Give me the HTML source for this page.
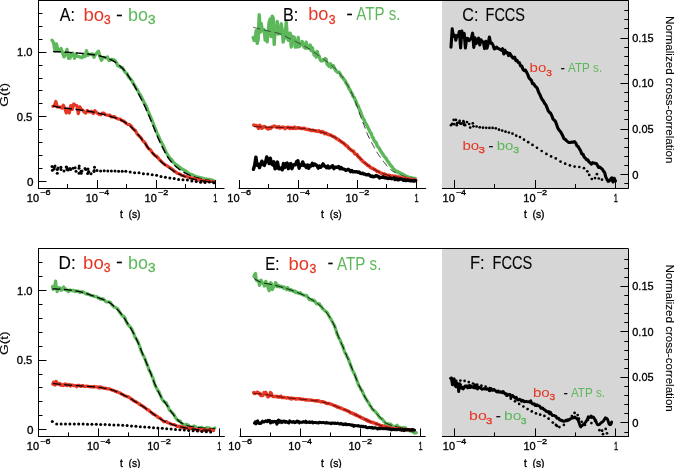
<!DOCTYPE html>
<html><head><meta charset="utf-8"><style>
html,body{margin:0;padding:0;background:#fff;width:675px;height:468px;overflow:hidden;}
svg{display:block;}
</style></head><body>
<svg width="675" height="468" viewBox="0 0 675 468">
<rect x="0" y="0" width="675" height="468" fill="#fff"/>
<rect x="442" y="0" width="186" height="188" fill="#d6d6d6"/>
<rect x="442" y="248.5" width="186" height="188" fill="#d6d6d6"/>
<path d="M52.0 40.2 L53.5 42.6 L55.0 50.7 L56.5 43.8 L58.0 50.4 L59.5 51.0 L61.0 48.5 L62.5 52.5 L64.0 56.9 L65.5 54.1 L67.0 49.4 L68.5 58.3 L70.0 58.1 L71.5 53.8 L73.0 53.1 L74.5 58.2 L76.0 54.3 L77.5 56.3 L79.0 56.6 L80.5 57.3 L82.0 57.7 L83.5 54.9 L85.0 56.5 L86.5 50.7 L88.0 55.3 L89.5 54.4 L91.0 54.3 L92.5 53.9 L94.0 57.3 L95.5 54.5 L97.0 52.9 L98.5 51.2 L100.0 56.4 L101.5 60.3 L103.0 57.5 L104.5 57.5 L106.0 57.9 L107.5 56.9 L109.0 60.6 L110.5 60.0 L112.0 59.3 L113.5 59.6 L115.0 60.5 L116.5 63.0 L118.0 65.9 L119.5 66.2 L121.0 67.4 L122.5 67.7 L124.0 70.3 L125.5 72.7 L127.0 73.7 L128.5 76.9 L130.0 78.4 L131.5 80.1 L133.0 83.0 L134.5 85.3 L136.0 87.9 L137.5 89.9 L139.0 93.4 L140.5 95.1 L142.0 98.2 L143.5 101.4 L145.0 104.1 L146.5 106.9 L148.0 111.2 L149.5 114.5 L151.0 117.9 L152.5 121.6 L154.0 125.7 L155.5 129.1 L157.0 133.2 L158.5 136.0 L160.0 139.7 L161.5 142.4 L163.0 145.3 L164.5 148.7 L166.0 152.0 L167.5 154.6 L169.0 157.1 L170.5 158.9 L172.0 160.1 L173.5 162.4 L175.0 163.9 L176.5 164.9 L178.0 166.1 L179.5 167.1 L181.0 168.3 L182.5 169.3 L184.0 170.1 L185.5 170.7 L187.0 172.0 L188.5 173.3 L190.0 174.0 L191.5 174.3 L193.0 175.2 L194.5 176.2 L196.0 176.3 L197.5 177.3 L199.0 177.2 L200.5 177.9 L202.0 178.0 L203.5 178.6 L205.0 179.1 L206.5 179.0 L208.0 179.5 L209.5 179.5 L211.0 179.9 L212.5 180.2 L214.0 181.0" fill="none" stroke="#5cb85a" stroke-width="3.3" stroke-linejoin="round" stroke-linecap="round" />
<path d="M53.0 51.6 L53.5 51.6 L54.0 51.6 L54.5 51.7 L55.0 51.7 L55.5 51.7 L56.0 51.7 L56.5 51.7 L57.0 51.8 L57.5 51.8 L58.0 51.8 L58.5 51.8 L59.0 51.9 L59.5 51.9 L60.0 51.9 L60.5 51.9 L61.0 52.0 L61.5 52.0 L62.0 52.0 L62.5 52.0 L63.0 52.1 L63.5 52.1 L64.0 52.1 L64.5 52.1 L65.0 52.2 L65.5 52.2 L66.0 52.2 L66.5 52.3 L67.0 52.3 L67.5 52.3 L68.0 52.4 L68.5 52.4 L69.0 52.4 L69.5 52.5 L70.0 52.5 L70.5 52.5 L71.0 52.6 L71.5 52.6 L72.0 52.6 L72.5 52.7 L73.0 52.7 L73.5 52.7 L74.0 52.8 L74.5 52.8 L75.0 52.8 L75.5 52.9 L76.0 52.9 L76.5 53.0 L77.0 53.0 L77.5 53.0 L78.0 53.1 L78.5 53.1 L79.0 53.1 L79.5 53.2 L80.0 53.2 L80.5 53.3 L81.0 53.3 L81.5 53.4 L82.0 53.4 L82.5 53.5 L83.0 53.5 L83.5 53.5 L84.0 53.6 L84.5 53.6 L85.0 53.7 L85.5 53.8 L86.0 53.8 L86.5 53.9 L87.0 53.9 L87.5 54.0 L88.0 54.0 L88.5 54.1 L89.0 54.2 L89.5 54.2 L90.0 54.3 L90.5 54.3 L91.0 54.4 L91.5 54.5 L92.0 54.5 L92.5 54.6 L93.0 54.7 L93.5 54.8 L94.0 54.8 L94.5 54.9 L95.0 55.0 L95.5 55.1 L96.0 55.2 L96.5 55.3 L97.0 55.3 L97.5 55.4 L98.0 55.5 L98.5 55.6 L99.0 55.8 L99.5 55.9 L100.0 56.0 L100.5 56.1 L101.0 56.2 L101.5 56.3 L102.0 56.5 L102.5 56.6 L103.0 56.7 L103.5 56.9 L104.0 57.0 L104.5 57.1 L105.0 57.3 L105.5 57.5 L106.0 57.7 L106.5 57.8 L107.0 58.0 L107.5 58.2 L108.0 58.4 L108.5 58.6 L109.0 58.9 L109.5 59.1 L110.0 59.3 L110.5 59.5 L111.0 59.8 L111.5 60.0 L112.0 60.3 L112.5 60.5 L113.0 60.8 L113.5 61.1 L114.0 61.4 L114.5 61.7 L115.0 62.0 L115.5 62.3 L116.0 62.7 L116.5 63.1 L117.0 63.4 L117.5 63.8 L118.0 64.2 L118.5 64.7 L119.0 65.1 L119.5 65.5 L120.0 66.0 L120.5 66.5 L121.0 66.9 L121.5 67.4 L122.0 67.9 L122.5 68.4 L123.0 68.9 L123.5 69.5 L124.0 70.0 L124.5 70.6 L125.0 71.2 L125.5 71.8 L126.0 72.4 L126.5 73.1 L127.0 73.8 L127.5 74.6 L128.0 75.4 L128.5 76.1 L129.0 76.9 L129.5 77.7 L130.0 78.5 L130.5 79.3 L131.0 80.1 L131.5 80.8 L132.0 81.6 L132.5 82.5 L133.0 83.3 L133.5 84.1 L134.0 85.0 L134.5 85.9 L135.0 86.8 L135.5 87.8 L136.0 88.7 L136.5 89.7 L137.0 90.7 L137.5 91.7 L138.0 92.7 L138.5 93.7 L139.0 94.7 L139.5 95.7 L140.0 96.7 L140.5 97.6 L141.0 98.6 L141.5 99.5 L142.0 100.5 L142.5 101.5 L143.0 102.5 L143.5 103.5 L144.0 104.5 L144.5 105.6 L145.0 106.7 L145.5 107.8 L146.0 108.9 L146.5 110.1 L147.0 111.2 L147.5 112.4 L148.0 113.5 L148.5 114.7 L149.0 115.8 L149.5 117.0 L150.0 118.2 L150.5 119.4 L151.0 120.6 L151.5 121.8 L152.0 123.0 L152.5 124.2 L153.0 125.5 L153.5 126.8 L154.0 128.0 L154.5 129.3 L155.0 130.6 L155.5 131.8 L156.0 133.0 L156.5 134.2 L157.0 135.4 L157.5 136.6 L158.0 137.7 L158.5 138.9 L159.0 140.0 L159.5 141.1 L160.0 142.2 L160.5 143.3 L161.0 144.4 L161.5 145.4 L162.0 146.4 L162.5 147.4 L163.0 148.4 L163.5 149.4 L164.0 150.3 L164.5 151.3 L165.0 152.2 L165.5 153.2 L166.0 154.1 L166.5 155.0 L167.0 155.8 L167.5 156.7 L168.0 157.5 L168.5 158.2 L169.0 158.9 L169.5 159.6 L170.0 160.3 L170.5 160.9 L171.0 161.5 L171.5 162.1 L172.0 162.7 L172.5 163.2 L173.0 163.8 L173.5 164.3 L174.0 164.8 L174.5 165.3 L175.0 165.7 L175.5 166.2 L176.0 166.6 L176.5 167.1 L177.0 167.5 L177.5 167.9 L178.0 168.3 L178.5 168.7 L179.0 169.1 L179.5 169.5 L180.0 169.8 L180.5 170.2 L181.0 170.5 L181.5 170.9 L182.0 171.2 L182.5 171.5 L183.0 171.8 L183.5 172.1 L184.0 172.4 L184.5 172.7 L185.0 173.0 L185.5 173.2 L186.0 173.5 L186.5 173.7 L187.0 174.0 L187.5 174.2 L188.0 174.5 L188.5 174.7 L189.0 174.9 L189.5 175.1 L190.0 175.3 L190.5 175.6 L191.0 175.7 L191.5 175.9 L192.0 176.1 L192.5 176.3 L193.0 176.5 L193.5 176.7 L194.0 176.8 L194.5 177.0 L195.0 177.1 L195.5 177.3 L196.0 177.5 L196.5 177.6 L197.0 177.7 L197.5 177.9 L198.0 178.0 L198.5 178.2 L199.0 178.3 L199.5 178.4 L200.0 178.5 L200.5 178.7 L201.0 178.8 L201.5 178.9 L202.0 179.0 L202.5 179.1 L203.0 179.2 L203.5 179.3 L204.0 179.4 L204.5 179.5 L205.0 179.6 L205.5 179.7 L206.0 179.8 L206.5 179.9 L207.0 180.0 L207.5 180.1 L208.0 180.2 L208.5 180.3 L209.0 180.4 L209.5 180.5 L210.0 180.6 L210.5 180.6 L211.0 180.7 L211.5 180.8 L212.0 180.9 L212.5 181.0 L213.0 181.1 L213.5 181.2 L214.0 181.3" fill="none" stroke="#000" stroke-width="1.4" stroke-dasharray="8,3.5"/>
<path d="M52.8 106.3 L54.3 106.0 L55.8 101.5 L57.3 107.0 L58.8 107.0 L60.3 107.2 L61.8 108.1 L63.3 105.1 L64.8 108.6 L66.3 113.0 L67.8 109.0 L69.3 113.0 L70.8 105.5 L72.3 109.4 L73.8 104.0 L75.3 105.2 L76.8 105.5 L78.3 113.6 L79.8 106.8 L81.3 109.4 L82.8 110.1 L84.3 112.2 L85.8 113.0 L87.3 110.4 L88.8 111.8 L90.3 111.9 L91.8 111.3 L93.3 113.6 L94.8 110.7 L96.3 112.3 L97.8 113.6 L99.3 114.5 L100.8 114.8 L102.3 113.0 L103.8 113.2 L105.3 114.7 L106.8 115.0 L108.3 115.6 L109.8 115.1 L111.3 116.9 L112.8 116.9 L114.3 116.5 L115.8 117.9 L117.3 118.6 L118.8 119.2 L120.3 119.0 L121.8 120.6 L123.3 120.8 L124.8 122.0 L126.3 123.5 L127.8 124.5 L129.3 124.4 L130.8 125.7 L132.3 127.8 L133.8 129.4 L135.3 130.4 L136.8 133.4 L138.3 135.2 L139.8 136.7 L141.3 138.2 L142.8 140.7 L144.3 142.0 L145.8 144.0 L147.3 146.9 L148.8 148.8 L150.3 149.6 L151.8 151.9 L153.3 153.8 L154.8 155.4 L156.3 156.0 L157.8 157.5 L159.3 159.5 L160.8 160.8 L162.3 162.4 L163.8 163.7 L165.3 164.9 L166.8 165.7 L168.3 166.6 L169.8 167.5 L171.3 168.6 L172.8 169.7 L174.3 171.3 L175.8 172.0 L177.3 173.3 L178.8 173.8 L180.3 174.3 L181.8 175.4 L183.3 175.5 L184.8 176.2 L186.3 176.7 L187.8 176.8 L189.3 177.6 L190.8 177.7 L192.3 179.1 L193.8 178.2 L195.3 179.0 L196.8 179.5 L198.3 180.2 L199.8 179.9 L201.3 180.3 L202.8 180.5 L204.3 181.3 L205.8 181.0 L207.3 181.0 L208.8 181.3 L210.3 181.4 L211.8 181.5 L213.3 181.6" fill="none" stroke="#e63624" stroke-width="3.2" stroke-linejoin="round" stroke-linecap="round" />
<path d="M52.8 105.9 L53.3 106.0 L53.8 106.1 L54.3 106.3 L54.8 106.4 L55.3 106.5 L55.8 106.6 L56.3 106.7 L56.8 106.8 L57.3 106.9 L57.8 107.0 L58.3 107.1 L58.8 107.2 L59.3 107.3 L59.8 107.4 L60.3 107.4 L60.8 107.5 L61.3 107.6 L61.8 107.7 L62.3 107.7 L62.8 107.8 L63.3 107.9 L63.8 107.9 L64.3 108.0 L64.8 108.1 L65.3 108.1 L65.8 108.2 L66.3 108.2 L66.8 108.3 L67.3 108.4 L67.8 108.4 L68.3 108.5 L68.8 108.5 L69.3 108.6 L69.8 108.7 L70.3 108.7 L70.8 108.8 L71.3 108.9 L71.8 108.9 L72.3 109.0 L72.8 109.1 L73.3 109.1 L73.8 109.2 L74.3 109.2 L74.8 109.3 L75.3 109.4 L75.8 109.4 L76.3 109.5 L76.8 109.6 L77.3 109.6 L77.8 109.7 L78.3 109.8 L78.8 109.8 L79.3 109.9 L79.8 110.0 L80.3 110.0 L80.8 110.1 L81.3 110.2 L81.8 110.2 L82.3 110.3 L82.8 110.4 L83.3 110.4 L83.8 110.5 L84.3 110.6 L84.8 110.7 L85.3 110.7 L85.8 110.8 L86.3 110.9 L86.8 111.0 L87.3 111.0 L87.8 111.1 L88.3 111.2 L88.8 111.3 L89.3 111.4 L89.8 111.5 L90.3 111.5 L90.8 111.6 L91.3 111.7 L91.8 111.8 L92.3 111.9 L92.8 112.0 L93.3 112.1 L93.8 112.2 L94.3 112.3 L94.8 112.4 L95.3 112.5 L95.8 112.6 L96.3 112.7 L96.8 112.8 L97.3 112.9 L97.8 113.0 L98.3 113.1 L98.8 113.3 L99.3 113.4 L99.8 113.5 L100.3 113.6 L100.8 113.8 L101.3 113.9 L101.8 114.0 L102.3 114.1 L102.8 114.3 L103.3 114.4 L103.8 114.5 L104.3 114.7 L104.8 114.8 L105.3 114.9 L105.8 115.1 L106.3 115.2 L106.8 115.4 L107.3 115.5 L107.8 115.6 L108.3 115.8 L108.8 115.9 L109.3 116.1 L109.8 116.2 L110.3 116.3 L110.8 116.5 L111.3 116.6 L111.8 116.8 L112.3 116.9 L112.8 117.1 L113.3 117.3 L113.8 117.4 L114.3 117.6 L114.8 117.7 L115.3 117.9 L115.8 118.1 L116.3 118.2 L116.8 118.4 L117.3 118.6 L117.8 118.7 L118.3 118.9 L118.8 119.1 L119.3 119.3 L119.8 119.5 L120.3 119.7 L120.8 120.0 L121.3 120.2 L121.8 120.5 L122.3 120.7 L122.8 121.0 L123.3 121.3 L123.8 121.6 L124.3 121.9 L124.8 122.2 L125.3 122.6 L125.8 122.9 L126.3 123.2 L126.8 123.6 L127.3 123.9 L127.8 124.3 L128.3 124.7 L128.8 125.1 L129.3 125.5 L129.8 125.9 L130.3 126.3 L130.8 126.7 L131.3 127.2 L131.8 127.6 L132.3 128.1 L132.8 128.6 L133.3 129.2 L133.8 129.7 L134.3 130.3 L134.8 130.8 L135.3 131.4 L135.8 132.0 L136.3 132.6 L136.8 133.2 L137.3 133.7 L137.8 134.3 L138.3 134.9 L138.8 135.5 L139.3 136.1 L139.8 136.7 L140.3 137.4 L140.8 138.0 L141.3 138.6 L141.8 139.2 L142.3 139.9 L142.8 140.5 L143.3 141.1 L143.8 141.8 L144.3 142.5 L144.8 143.2 L145.3 143.9 L145.8 144.6 L146.3 145.3 L146.8 146.0 L147.3 146.7 L147.8 147.3 L148.3 148.0 L148.8 148.7 L149.3 149.3 L149.8 149.9 L150.3 150.5 L150.8 151.0 L151.3 151.6 L151.8 152.2 L152.3 152.7 L152.8 153.2 L153.3 153.8 L153.8 154.3 L154.3 154.8 L154.8 155.4 L155.3 155.9 L155.8 156.4 L156.3 157.0 L156.8 157.5 L157.3 158.0 L157.8 158.5 L158.3 159.0 L158.8 159.5 L159.3 160.0 L159.8 160.5 L160.3 161.0 L160.8 161.4 L161.3 161.9 L161.8 162.3 L162.3 162.7 L162.8 163.1 L163.3 163.5 L163.8 163.9 L164.3 164.3 L164.8 164.7 L165.3 165.1 L165.8 165.5 L166.3 165.9 L166.8 166.3 L167.3 166.6 L167.8 167.0 L168.3 167.4 L168.8 167.7 L169.3 168.1 L169.8 168.4 L170.3 168.8 L170.8 169.1 L171.3 169.4 L171.8 169.8 L172.3 170.1 L172.8 170.4 L173.3 170.7 L173.8 171.1 L174.3 171.4 L174.8 171.7 L175.3 172.0 L175.8 172.3 L176.3 172.6 L176.8 172.9 L177.3 173.2 L177.8 173.4 L178.3 173.7 L178.8 174.0 L179.3 174.2 L179.8 174.4 L180.3 174.7 L180.8 174.9 L181.3 175.2 L181.8 175.4 L182.3 175.6 L182.8 175.8 L183.3 176.0 L183.8 176.3 L184.3 176.5 L184.8 176.7 L185.3 176.8 L185.8 177.0 L186.3 177.2 L186.8 177.4 L187.3 177.5 L187.8 177.7 L188.3 177.8 L188.8 178.0 L189.3 178.1 L189.8 178.3 L190.3 178.4 L190.8 178.5 L191.3 178.6 L191.8 178.8 L192.3 178.9 L192.8 179.0 L193.3 179.1 L193.8 179.2 L194.3 179.3 L194.8 179.4 L195.3 179.5 L195.8 179.6 L196.3 179.7 L196.8 179.8 L197.3 179.9 L197.8 180.0 L198.3 180.1 L198.8 180.2 L199.3 180.3 L199.8 180.4 L200.3 180.5 L200.8 180.6 L201.3 180.7 L201.8 180.7 L202.3 180.8 L202.8 180.9 L203.3 181.0 L203.8 181.1 L204.3 181.1 L204.8 181.2 L205.3 181.3 L205.8 181.3 L206.3 181.4 L206.8 181.4 L207.3 181.5 L207.8 181.6 L208.3 181.6 L208.8 181.7 L209.3 181.7 L209.8 181.8 L210.3 181.8 L210.8 181.9 L211.3 181.9 L211.8 182.0 L212.3 182.0 L212.8 182.1 L213.3 182.1 L213.8 182.2 L214.3 182.2" fill="none" stroke="#000" stroke-width="1.4" stroke-dasharray="8,3.5"/>
<g fill="#000"><circle cx="52.0" cy="166.6" r="1.5"/><circle cx="55.0" cy="165.9" r="1.5"/><circle cx="58.0" cy="168.1" r="1.5"/><circle cx="61.0" cy="169.5" r="1.5"/><circle cx="64.0" cy="171.1" r="1.5"/><circle cx="67.0" cy="169.5" r="1.5"/><circle cx="70.0" cy="168.5" r="1.5"/><circle cx="73.0" cy="168.3" r="1.5"/><circle cx="76.0" cy="171.3" r="1.5"/><circle cx="79.0" cy="173.2" r="1.5"/><circle cx="82.0" cy="171.0" r="1.5"/><circle cx="85.0" cy="168.5" r="1.5"/><circle cx="88.0" cy="169.1" r="1.5"/><circle cx="91.0" cy="173.8" r="1.5"/><circle cx="94.0" cy="171.4" r="1.5"/><circle cx="97.0" cy="170.6" r="1.5"/><circle cx="100.6" cy="171.0" r="1.5"/><circle cx="104.2" cy="170.8" r="1.5"/><circle cx="107.8" cy="170.9" r="1.5"/><circle cx="111.4" cy="171.0" r="1.5"/><circle cx="115.0" cy="171.0" r="1.5"/><circle cx="118.6" cy="171.3" r="1.5"/><circle cx="122.2" cy="171.2" r="1.5"/><circle cx="125.8" cy="171.3" r="1.5"/><circle cx="130.2" cy="172.0" r="1.5"/><circle cx="134.6" cy="172.8" r="1.5"/><circle cx="139.0" cy="172.8" r="1.5"/><circle cx="143.4" cy="173.7" r="1.5"/><circle cx="147.8" cy="174.0" r="1.5"/><circle cx="152.2" cy="174.8" r="1.5"/><circle cx="156.6" cy="175.2" r="1.5"/><circle cx="161.0" cy="176.4" r="1.5"/><circle cx="165.4" cy="177.3" r="1.5"/><circle cx="169.8" cy="178.1" r="1.5"/><circle cx="174.2" cy="178.6" r="1.5"/><circle cx="178.6" cy="179.4" r="1.5"/><circle cx="183.0" cy="179.7" r="1.5"/><circle cx="187.4" cy="180.1" r="1.5"/><circle cx="191.8" cy="181.1" r="1.5"/><circle cx="196.2" cy="181.5" r="1.5"/><circle cx="200.6" cy="182.3" r="1.5"/><circle cx="205.0" cy="182.4" r="1.5"/><circle cx="209.4" cy="182.0" r="1.5"/><circle cx="213.8" cy="182.8" r="1.5"/><circle cx="75.1" cy="167.7" r="1.5"/><circle cx="66.8" cy="167.3" r="1.5"/><circle cx="67.9" cy="169.5" r="1.5"/><circle cx="68.1" cy="170.0" r="1.5"/><circle cx="94.5" cy="167.2" r="1.5"/><circle cx="79.2" cy="166.1" r="1.5"/><circle cx="81.0" cy="171.2" r="1.5"/><circle cx="66.2" cy="167.1" r="1.5"/><circle cx="81.2" cy="173.3" r="1.5"/><circle cx="57.3" cy="169.4" r="1.5"/><circle cx="54.2" cy="168.9" r="1.5"/><circle cx="88.6" cy="171.4" r="1.5"/><circle cx="52.4" cy="170.2" r="1.5"/><circle cx="94.1" cy="170.6" r="1.5"/><circle cx="87.6" cy="173.4" r="1.5"/><circle cx="85.8" cy="169.5" r="1.5"/><circle cx="54.1" cy="167.6" r="1.5"/><circle cx="60.9" cy="167.2" r="1.5"/><circle cx="88.5" cy="172.3" r="1.5"/><circle cx="70.6" cy="169.6" r="1.5"/><circle cx="79.0" cy="168.2" r="1.5"/><circle cx="57.3" cy="173.3" r="1.5"/></g>
<path d="M253.2 37.6 L254.2 40.4 L255.2 38.0 L256.2 30.7 L257.2 43.3 L258.2 38.8 L259.2 14.7 L260.2 32.3 L261.2 23.5 L262.2 30.0 L263.2 31.2 L264.2 29.8 L265.2 40.1 L266.2 32.3 L267.2 41.8 L268.2 30.7 L269.2 22.0 L270.2 19.0 L271.2 36.5 L272.2 16.2 L273.2 17.8 L274.2 44.4 L275.2 28.8 L276.2 31.9 L277.2 21.5 L278.2 34.1 L279.2 30.2 L280.2 33.6 L281.2 23.8 L282.2 29.7 L283.2 42.0 L284.2 37.4 L285.2 37.8 L286.2 22.3 L287.2 34.7 L288.2 40.3 L289.2 40.3 L290.2 33.1 L291.2 47.0 L292.2 36.3 L293.2 41.2 L294.2 37.1 L295.2 47.1 L296.2 41.2 L297.2 47.0 L298.2 37.4 L299.2 46.5 L300.2 45.0 L301.2 44.2 L302.2 41.5 L303.2 45.6 L304.2 47.2 L305.2 48.1 L306.2 42.2 L307.2 48.1 L308.2 48.1 L309.2 47.5 L310.2 45.0 L311.2 50.6 L312.2 47.5 L313.2 51.5 L314.2 55.1 L315.2 53.1 L316.2 57.2 L317.2 51.4 L318.2 55.7 L319.2 56.3 L320.2 59.7 L321.2 60.9 L322.2 60.9 L323.2 60.7 L324.2 59.8 L325.2 58.6 L326.2 59.3 L327.2 64.3 L328.2 65.1 L329.2 66.3 L330.2 63.7 L331.2 67.6 L332.2 65.4 L333.2 65.7 L334.2 67.5 L335.2 69.5 L336.2 71.1 L337.2 72.0 L338.2 72.3 L339.2 72.3 L340.2 73.9 L341.2 76.3 L342.2 77.0 L343.2 78.4 L344.2 79.7 L345.2 80.8 L346.2 83.5 L347.2 84.3 L348.2 86.5 L349.2 88.9 L350.2 90.1 L351.2 92.3 L352.2 93.9 L353.2 96.8 L354.2 97.4 L355.2 100.0 L356.2 102.1 L357.2 105.1 L358.2 105.9 L359.2 109.1 L360.2 110.9 L361.2 113.9 L362.2 116.3 L363.2 118.9 L364.2 119.9 L365.2 122.8 L366.2 124.2 L367.2 126.0 L368.2 128.1 L369.2 130.0 L370.2 132.4 L371.2 133.5 L372.2 136.8 L373.2 137.9 L374.2 140.7 L375.2 141.8 L376.2 142.8 L377.2 146.1 L378.2 147.0 L379.2 148.3 L380.2 150.1 L381.2 151.8 L382.2 153.2 L383.2 154.7 L384.2 156.3 L385.2 157.4 L386.2 158.7 L387.2 160.4 L388.2 161.8 L389.2 163.1 L390.2 164.8 L391.2 166.0 L392.2 166.8 L393.2 169.2 L394.2 169.2 L395.2 171.1 L396.2 171.2 L397.2 171.2 L398.2 172.7 L399.2 172.3 L400.2 173.3 L401.2 173.4 L402.2 174.2 L403.2 174.4 L404.2 174.9 L405.2 176.5 L406.2 176.2 L407.2 176.6 L408.2 176.9 L409.2 177.6 L410.2 178.1 L411.2 177.7 L412.2 178.6 L413.2 178.1 L414.2 178.3 L415.2 178.5" fill="none" stroke="#5cb85a" stroke-width="3.4" stroke-linejoin="round" stroke-linecap="round" />
<path d="M253.2 27.3 L253.7 27.4 L254.2 27.6 L254.7 27.7 L255.2 27.8 L255.7 27.9 L256.2 28.1 L256.7 28.2 L257.2 28.3 L257.7 28.4 L258.2 28.6 L258.7 28.7 L259.2 28.8 L259.7 28.9 L260.2 29.1 L260.7 29.2 L261.2 29.3 L261.7 29.4 L262.2 29.5 L262.7 29.7 L263.2 29.8 L263.7 29.9 L264.2 30.0 L264.7 30.1 L265.2 30.3 L265.7 30.4 L266.2 30.5 L266.7 30.6 L267.2 30.7 L267.7 30.9 L268.2 31.0 L268.7 31.1 L269.2 31.2 L269.7 31.3 L270.2 31.4 L270.7 31.6 L271.2 31.7 L271.7 31.8 L272.2 31.9 L272.7 32.0 L273.2 32.1 L273.7 32.2 L274.2 32.3 L274.7 32.4 L275.2 32.5 L275.7 32.6 L276.2 32.8 L276.7 32.9 L277.2 33.0 L277.7 33.1 L278.2 33.3 L278.7 33.4 L279.2 33.6 L279.7 33.7 L280.2 33.9 L280.7 34.0 L281.2 34.2 L281.7 34.4 L282.2 34.7 L282.7 34.9 L283.2 35.1 L283.7 35.4 L284.2 35.7 L284.7 35.9 L285.2 36.2 L285.7 36.5 L286.2 36.7 L286.7 37.0 L287.2 37.3 L287.7 37.6 L288.2 37.9 L288.7 38.1 L289.2 38.4 L289.7 38.6 L290.2 38.9 L290.7 39.1 L291.2 39.4 L291.7 39.6 L292.2 39.9 L292.7 40.1 L293.2 40.4 L293.7 40.6 L294.2 40.9 L294.7 41.1 L295.2 41.4 L295.7 41.6 L296.2 41.9 L296.7 42.1 L297.2 42.4 L297.7 42.6 L298.2 42.9 L298.7 43.1 L299.2 43.4 L299.7 43.6 L300.2 43.9 L300.7 44.2 L301.2 44.4 L301.7 44.7 L302.2 45.0 L302.7 45.3 L303.2 45.5 L303.7 45.8 L304.2 46.1 L304.7 46.4 L305.2 46.6 L305.7 46.9 L306.2 47.2 L306.7 47.5 L307.2 47.8 L307.7 48.1 L308.2 48.4 L308.7 48.7 L309.2 49.0 L309.7 49.3 L310.2 49.6 L310.7 49.9 L311.2 50.3 L311.7 50.6 L312.2 50.9 L312.7 51.3 L313.2 51.6 L313.7 52.0 L314.2 52.3 L314.7 52.7 L315.2 53.0 L315.7 53.4 L316.2 53.7 L316.7 54.1 L317.2 54.5 L317.7 54.8 L318.2 55.2 L318.7 55.6 L319.2 55.9 L319.7 56.3 L320.2 56.6 L320.7 57.0 L321.2 57.4 L321.7 57.7 L322.2 58.1 L322.7 58.5 L323.2 58.9 L323.7 59.2 L324.2 59.6 L324.7 60.0 L325.2 60.4 L325.7 60.8 L326.2 61.1 L326.7 61.5 L327.2 61.9 L327.7 62.3 L328.2 62.7 L328.7 63.1 L329.2 63.5 L329.7 63.9 L330.2 64.3 L330.7 64.7 L331.2 65.1 L331.7 65.6 L332.2 66.0 L332.7 66.4 L333.2 66.8 L333.7 67.3 L334.2 67.7 L334.7 68.2 L335.2 68.7 L335.7 69.2 L336.2 69.7 L336.7 70.2 L337.2 70.7 L337.7 71.3 L338.2 71.8 L338.7 72.4 L339.2 73.0 L339.7 73.6 L340.2 74.2 L340.7 74.8 L341.2 75.4 L341.7 76.0 L342.2 76.7 L342.7 77.4 L343.2 78.1 L343.7 78.8 L344.2 79.6 L344.7 80.3 L345.2 81.1 L345.7 81.9 L346.2 82.8 L346.7 83.6 L347.2 84.5 L347.7 85.4 L348.2 86.2 L348.7 87.2 L349.2 88.1 L349.7 89.0 L350.2 90.0 L350.7 91.0 L351.2 92.0 L351.7 93.1 L352.2 94.1 L352.7 95.2 L353.2 96.3 L353.7 97.5 L354.2 98.6 L354.7 99.9 L355.2 101.1 L355.7 102.4 L356.2 103.7 L356.7 105.1 L357.2 106.5 L357.7 107.9 L358.2 109.5 L358.7 111.0 L359.2 112.5 L359.7 114.0 L360.2 115.3 L360.7 116.7 L361.2 118.0 L361.7 119.3 L362.2 120.5 L362.7 121.8 L363.2 123.0 L363.7 124.3 L364.2 125.6 L364.7 126.9 L365.2 128.3 L365.7 129.6 L366.2 130.9 L366.7 132.3 L367.2 133.5 L367.7 134.8 L368.2 135.9 L368.7 137.0 L369.2 138.0 L369.7 139.0 L370.2 140.0 L370.7 141.0 L371.2 141.9 L371.7 142.8 L372.2 143.7 L372.7 144.6 L373.2 145.5 L373.7 146.4 L374.2 147.4 L374.7 148.3 L375.2 149.2 L375.7 150.1 L376.2 150.9 L376.7 151.8 L377.2 152.6 L377.7 153.4 L378.2 154.2 L378.7 154.9 L379.2 155.7 L379.7 156.4 L380.2 157.0 L380.7 157.7 L381.2 158.4 L381.7 159.0 L382.2 159.7 L382.7 160.3 L383.2 161.0 L383.7 161.7 L384.2 162.4 L384.7 163.0 L385.2 163.7 L385.7 164.3 L386.2 165.0 L386.7 165.6 L387.2 166.2 L387.7 166.8 L388.2 167.3 L388.7 167.8 L389.2 168.3 L389.7 168.9 L390.2 169.3 L390.7 169.8 L391.2 170.2 L391.7 170.5 L392.2 170.8 L392.7 171.1 L393.2 171.4 L393.7 171.7 L394.2 172.0 L394.7 172.2 L395.2 172.5 L395.7 172.7 L396.2 173.0 L396.7 173.2 L397.2 173.4 L397.7 173.6 L398.2 173.9 L398.7 174.1 L399.2 174.3 L399.7 174.5 L400.2 174.7 L400.7 175.0 L401.2 175.2 L401.7 175.4 L402.2 175.6 L402.7 175.8 L403.2 175.9 L403.7 176.1 L404.2 176.2 L404.7 176.4 L405.2 176.5 L405.7 176.7 L406.2 176.8 L406.7 176.9 L407.2 177.1 L407.7 177.2 L408.2 177.3 L408.7 177.5 L409.2 177.6 L409.7 177.7 L410.2 177.8 L410.7 177.9 L411.2 178.0 L411.7 178.1 L412.2 178.2 L412.7 178.3 L413.2 178.3 L413.7 178.4 L414.2 178.5 L414.7 178.5 L415.2 178.6" fill="none" stroke="#333" stroke-width="1.0" stroke-dasharray="7,4"/>
<path d="M253.8 125.1 L255.0 125.4 L256.2 125.4 L257.4 126.2 L258.6 128.3 L259.8 125.3 L261.0 127.9 L262.2 128.2 L263.4 126.7 L264.6 126.5 L265.8 127.5 L267.0 128.2 L268.2 129.0 L269.4 127.9 L270.6 128.5 L271.8 126.9 L273.0 126.7 L274.2 126.1 L275.4 126.6 L276.6 127.2 L277.8 127.5 L279.0 126.6 L280.2 128.0 L281.4 127.5 L282.6 127.2 L283.8 127.2 L285.0 128.6 L286.2 127.7 L287.4 127.3 L288.6 127.3 L289.8 128.5 L291.0 127.6 L292.2 128.3 L293.4 128.4 L294.6 127.0 L295.8 128.5 L297.0 127.9 L298.2 127.7 L299.4 127.9 L300.6 128.4 L301.8 128.4 L303.0 128.5 L304.2 128.2 L305.4 129.1 L306.6 129.3 L307.8 129.6 L309.0 129.6 L310.2 130.1 L311.4 130.5 L312.6 130.2 L313.8 130.5 L315.0 130.7 L316.2 130.9 L317.4 131.4 L318.6 130.7 L319.8 131.5 L321.0 132.2 L322.2 131.5 L323.4 132.1 L324.6 133.6 L325.8 133.0 L327.0 133.7 L328.2 134.5 L329.4 134.8 L330.6 135.1 L331.8 135.8 L333.0 136.3 L334.2 136.8 L335.4 137.7 L336.6 138.8 L337.8 139.1 L339.0 140.3 L340.2 140.9 L341.4 141.8 L342.6 142.7 L343.8 143.3 L345.0 144.6 L346.2 145.6 L347.4 146.2 L348.6 148.0 L349.8 149.0 L351.0 150.0 L352.2 150.8 L353.4 151.1 L354.6 153.6 L355.8 154.1 L357.0 154.5 L358.2 156.7 L359.4 157.4 L360.6 159.1 L361.8 160.1 L363.0 161.6 L364.2 162.4 L365.4 163.4 L366.6 164.3 L367.8 165.6 L369.0 165.7 L370.2 167.3 L371.4 168.0 L372.6 168.3 L373.8 169.2 L375.0 169.7 L376.2 170.6 L377.4 171.5 L378.6 171.5 L379.8 172.5 L381.0 173.1 L382.2 173.5 L383.4 174.2 L384.6 174.1 L385.8 174.8 L387.0 175.7 L388.2 175.3 L389.4 175.5 L390.6 175.8 L391.8 176.3 L393.0 176.1 L394.2 176.5 L395.4 176.2 L396.6 176.6 L397.8 176.9 L399.0 177.1 L400.2 177.6 L401.4 178.2 L402.6 178.1 L403.8 178.0 L405.0 178.7 L406.2 178.9 L407.4 178.6 L408.6 179.3 L409.8 179.1 L411.0 179.4 L412.2 179.6 L413.4 180.2 L414.6 179.9 L415.8 180.2" fill="none" stroke="#e63624" stroke-width="3.5" stroke-linejoin="round" stroke-linecap="round" />
<path d="M253.8 126.6 L254.3 126.6 L254.8 126.7 L255.3 126.7 L255.8 126.7 L256.3 126.7 L256.8 126.8 L257.3 126.8 L257.8 126.8 L258.3 126.8 L258.8 126.9 L259.3 126.9 L259.8 126.9 L260.3 126.9 L260.8 127.0 L261.3 127.0 L261.8 127.0 L262.3 127.0 L262.8 127.0 L263.3 127.0 L263.8 127.1 L264.3 127.1 L264.8 127.1 L265.3 127.1 L265.8 127.1 L266.3 127.1 L266.8 127.1 L267.3 127.2 L267.8 127.2 L268.3 127.2 L268.8 127.2 L269.3 127.2 L269.8 127.2 L270.3 127.2 L270.8 127.2 L271.3 127.3 L271.8 127.3 L272.3 127.3 L272.8 127.3 L273.3 127.3 L273.8 127.3 L274.3 127.3 L274.8 127.4 L275.3 127.4 L275.8 127.4 L276.3 127.4 L276.8 127.4 L277.3 127.4 L277.8 127.4 L278.3 127.4 L278.8 127.4 L279.3 127.5 L279.8 127.5 L280.3 127.5 L280.8 127.5 L281.3 127.5 L281.8 127.5 L282.3 127.5 L282.8 127.5 L283.3 127.6 L283.8 127.6 L284.3 127.6 L284.8 127.6 L285.3 127.6 L285.8 127.6 L286.3 127.6 L286.8 127.7 L287.3 127.7 L287.8 127.7 L288.3 127.7 L288.8 127.7 L289.3 127.7 L289.8 127.8 L290.3 127.8 L290.8 127.8 L291.3 127.8 L291.8 127.8 L292.3 127.8 L292.8 127.9 L293.3 127.9 L293.8 127.9 L294.3 127.9 L294.8 127.9 L295.3 128.0 L295.8 128.0 L296.3 128.0 L296.8 128.0 L297.3 128.0 L297.8 128.1 L298.3 128.1 L298.8 128.1 L299.3 128.1 L299.8 128.2 L300.3 128.2 L300.8 128.2 L301.3 128.3 L301.8 128.3 L302.3 128.3 L302.8 128.4 L303.3 128.4 L303.8 128.4 L304.3 128.5 L304.8 128.5 L305.3 128.6 L305.8 128.6 L306.3 128.7 L306.8 128.8 L307.3 128.8 L307.8 128.9 L308.3 129.0 L308.8 129.1 L309.3 129.2 L309.8 129.3 L310.3 129.4 L310.8 129.5 L311.3 129.7 L311.8 129.8 L312.3 129.9 L312.8 130.0 L313.3 130.1 L313.8 130.2 L314.3 130.3 L314.8 130.4 L315.3 130.5 L315.8 130.6 L316.3 130.8 L316.8 130.9 L317.3 131.0 L317.8 131.1 L318.3 131.3 L318.8 131.4 L319.3 131.5 L319.8 131.6 L320.3 131.8 L320.8 131.9 L321.3 132.1 L321.8 132.2 L322.3 132.3 L322.8 132.5 L323.3 132.6 L323.8 132.8 L324.3 132.9 L324.8 133.1 L325.3 133.3 L325.8 133.4 L326.3 133.6 L326.8 133.8 L327.3 134.0 L327.8 134.2 L328.3 134.4 L328.8 134.7 L329.3 134.9 L329.8 135.1 L330.3 135.3 L330.8 135.5 L331.3 135.8 L331.8 136.0 L332.3 136.2 L332.8 136.4 L333.3 136.6 L333.8 136.9 L334.3 137.1 L334.8 137.3 L335.3 137.6 L335.8 137.8 L336.3 138.1 L336.8 138.4 L337.3 138.6 L337.8 139.0 L338.3 139.3 L338.8 139.6 L339.3 140.0 L339.8 140.3 L340.3 140.7 L340.8 141.1 L341.3 141.4 L341.8 141.8 L342.3 142.2 L342.8 142.6 L343.3 143.0 L343.8 143.4 L344.3 143.8 L344.8 144.3 L345.3 144.7 L345.8 145.1 L346.3 145.6 L346.8 146.1 L347.3 146.5 L347.8 147.0 L348.3 147.4 L348.8 147.9 L349.3 148.4 L349.8 148.8 L350.3 149.3 L350.8 149.7 L351.3 150.2 L351.8 150.6 L352.3 151.0 L352.8 151.5 L353.3 151.9 L353.8 152.4 L354.3 152.8 L354.8 153.3 L355.3 153.7 L355.8 154.2 L356.3 154.6 L356.8 155.1 L357.3 155.6 L357.8 156.1 L358.3 156.6 L358.8 157.1 L359.3 157.6 L359.8 158.1 L360.3 158.6 L360.8 159.1 L361.3 159.6 L361.8 160.1 L362.3 160.6 L362.8 161.1 L363.3 161.5 L363.8 161.9 L364.3 162.4 L364.8 162.8 L365.3 163.2 L365.8 163.6 L366.3 164.0 L366.8 164.4 L367.3 164.8 L367.8 165.2 L368.3 165.6 L368.8 166.0 L369.3 166.3 L369.8 166.7 L370.3 167.0 L370.8 167.3 L371.3 167.7 L371.8 168.0 L372.3 168.3 L372.8 168.6 L373.3 168.9 L373.8 169.2 L374.3 169.5 L374.8 169.8 L375.3 170.1 L375.8 170.3 L376.3 170.6 L376.8 170.9 L377.3 171.1 L377.8 171.3 L378.3 171.6 L378.8 171.8 L379.3 172.1 L379.8 172.3 L380.3 172.5 L380.8 172.7 L381.3 172.9 L381.8 173.1 L382.3 173.3 L382.8 173.5 L383.3 173.7 L383.8 173.9 L384.3 174.0 L384.8 174.2 L385.3 174.4 L385.8 174.5 L386.3 174.7 L386.8 174.8 L387.3 175.0 L387.8 175.1 L388.3 175.3 L388.8 175.4 L389.3 175.5 L389.8 175.7 L390.3 175.8 L390.8 175.9 L391.3 176.0 L391.8 176.1 L392.3 176.2 L392.8 176.3 L393.3 176.4 L393.8 176.5 L394.3 176.6 L394.8 176.6 L395.3 176.7 L395.8 176.8 L396.3 176.9 L396.8 177.0 L397.3 177.1 L397.8 177.2 L398.3 177.3 L398.8 177.4 L399.3 177.5 L399.8 177.6 L400.3 177.7 L400.8 177.8 L401.3 177.9 L401.8 178.0 L402.3 178.1 L402.8 178.2 L403.3 178.3 L403.8 178.4 L404.3 178.5 L404.8 178.6 L405.3 178.7 L405.8 178.7 L406.3 178.8 L406.8 178.9 L407.3 179.0 L407.8 179.1 L408.3 179.2 L408.8 179.2 L409.3 179.3 L409.8 179.4 L410.3 179.5 L410.8 179.6 L411.3 179.6 L411.8 179.7 L412.3 179.8 L412.8 179.9 L413.3 179.9 L413.8 180.0 L414.3 180.1 L414.8 180.2 L415.3 180.2 L415.8 180.3" fill="none" stroke="#200" stroke-width="0.9" stroke-dasharray="8,3"/>
<path d="M253.5 169.3 L254.7 164.9 L255.9 157.1 L257.1 165.2 L258.3 164.1 L259.5 167.6 L260.7 164.2 L261.9 161.2 L263.1 164.5 L264.3 165.4 L265.5 162.4 L266.7 157.0 L267.9 159.5 L269.1 163.6 L270.3 158.2 L271.5 163.6 L272.7 164.9 L273.9 161.8 L275.1 168.9 L276.3 167.7 L277.5 162.1 L278.7 168.7 L279.9 168.7 L281.1 168.0 L282.3 169.8 L283.5 163.4 L284.7 167.5 L285.9 163.7 L287.1 163.1 L288.3 168.7 L289.5 164.7 L290.7 163.5 L291.9 168.7 L293.1 165.1 L294.3 164.7 L295.5 164.9 L296.7 161.4 L297.9 160.8 L299.1 168.2 L300.3 164.7 L301.5 165.3 L302.7 161.9 L303.9 165.4 L305.1 165.1 L306.3 167.6 L307.5 164.9 L308.7 168.3 L309.9 165.5 L311.1 166.1 L312.3 163.3 L313.5 165.5 L314.7 164.1 L315.9 164.7 L317.1 166.0 L318.3 168.1 L319.5 166.0 L320.7 167.2 L321.9 166.1 L323.1 163.9 L324.3 165.9 L325.5 166.5 L326.7 167.7 L327.9 166.0 L329.1 168.0 L330.3 167.5 L331.5 166.5 L332.7 165.7 L333.9 168.7 L335.1 167.4 L336.3 167.1 L337.5 167.4 L338.7 166.5 L339.9 168.7 L341.1 167.5 L342.3 168.9 L343.5 168.9 L344.7 169.5 L345.9 170.3 L347.1 169.9 L348.3 169.3 L349.5 170.1 L350.7 171.6 L351.9 170.6 L353.1 171.9 L354.3 171.6 L355.5 171.9 L356.7 171.6 L357.9 172.4 L359.1 172.0 L360.3 173.3 L361.5 173.5 L362.7 173.1 L363.9 174.1 L365.1 174.1 L366.3 174.8 L367.5 174.9 L368.7 174.4 L369.9 175.5 L371.1 176.6 L372.3 176.0 L373.5 176.9 L374.7 176.5 L375.9 175.7 L377.1 176.0 L378.3 176.4 L379.5 177.9 L380.7 177.4 L381.9 177.4 L383.1 176.8 L384.3 177.8 L385.5 177.7 L386.7 178.1 L387.9 178.5 L389.1 178.3 L390.3 177.9 L391.5 178.7 L392.7 178.6 L393.9 178.1 L395.1 179.6 L396.3 178.8 L397.5 179.8 L398.7 179.8 L399.9 179.2 L401.1 178.9 L402.3 179.5 L403.5 180.4 L404.7 179.8 L405.9 180.6 L407.1 180.3 L408.3 180.3 L409.5 180.6 L410.7 180.8 L411.9 180.6 L413.1 181.0 L414.3 181.0 L415.5 180.7" fill="none" stroke="#000" stroke-width="3.4" stroke-linejoin="round" stroke-linecap="round" />
<path d="M451.0 47.1 L452.2 28.9 L453.4 36.2 L454.6 35.2 L455.8 40.2 L457.0 35.6 L458.2 36.1 L459.4 31.5 L460.6 48.0 L461.8 31.1 L463.0 37.1 L464.2 33.4 L465.4 48.0 L466.6 38.2 L467.8 38.5 L469.0 40.6 L470.2 39.4 L471.4 38.2 L472.6 33.2 L473.8 47.4 L475.0 37.9 L476.2 43.6 L477.4 41.0 L478.6 38.1 L479.8 45.0 L481.0 39.7 L482.2 41.8 L483.4 42.1 L484.6 48.6 L485.8 41.3 L487.0 48.2 L488.2 43.4 L489.4 37.1 L490.6 43.2 L491.8 43.0 L493.0 45.0 L494.2 48.9 L495.4 48.6 L496.6 47.1 L497.8 48.5 L499.0 48.7 L500.2 49.5 L501.4 50.3 L502.6 48.7 L503.8 53.9 L505.0 50.3 L506.2 52.8 L507.4 52.5 L508.6 55.6 L509.8 53.4 L511.0 55.3 L512.2 57.2 L513.4 58.2 L514.6 57.1 L515.8 60.6 L517.0 60.4 L518.2 62.4 L519.4 62.8 L520.6 66.0 L521.8 66.1 L523.0 69.4 L524.2 70.6 L525.4 70.0 L526.6 72.2 L527.8 74.7 L529.0 77.9 L530.2 79.2 L531.4 80.4 L532.6 83.7 L533.8 83.9 L535.0 86.0 L536.2 86.9 L537.4 88.7 L538.6 92.2 L539.8 94.4 L541.0 97.2 L542.2 99.5 L543.4 101.0 L544.6 103.4 L545.8 104.7 L547.0 107.6 L548.2 110.7 L549.4 112.3 L550.6 113.3 L551.8 115.6 L553.0 119.1 L554.2 120.1 L555.4 121.4 L556.6 124.5 L557.8 127.9 L559.0 130.1 L560.2 131.2 L561.4 133.3 L562.6 135.4 L563.8 138.5 L565.0 139.1 L566.2 140.3 L567.4 141.4 L568.6 142.4 L569.8 142.5 L571.0 142.4 L572.2 142.0 L573.4 142.2 L574.6 141.6 L575.8 143.1 L577.0 145.8 L578.2 146.5 L579.4 148.9 L580.6 150.7 L581.8 153.9 L583.0 154.2 L584.2 157.1 L585.4 158.1 L586.6 159.7 L587.8 159.7 L589.0 161.9 L590.2 162.9 L591.4 164.1 L592.6 162.6 L593.8 163.2 L595.0 163.3 L596.2 163.5 L597.4 165.2 L598.6 167.4 L599.8 167.1 L601.0 168.2 L602.2 169.0 L603.4 171.0 L604.6 172.4 L605.8 177.1 L607.0 179.4 L608.2 181.4 L609.4 180.9 L610.6 179.3 L611.8 177.8 L613.0 182.0 L614.2 178.3 L615.4 181.0" fill="none" stroke="#000" stroke-width="3.1" stroke-linejoin="round" stroke-linecap="round" />
<g fill="#000"><circle cx="451.0" cy="125.2" r="1.35"/><circle cx="454.2" cy="124.2" r="1.35"/><circle cx="457.4" cy="122.8" r="1.35"/><circle cx="460.6" cy="123.7" r="1.35"/><circle cx="463.8" cy="122.6" r="1.35"/><circle cx="467.0" cy="122.1" r="1.35"/><circle cx="470.2" cy="127.6" r="1.35"/><circle cx="473.4" cy="126.3" r="1.35"/><circle cx="476.6" cy="126.5" r="1.35"/><circle cx="479.8" cy="127.3" r="1.35"/><circle cx="483.0" cy="127.7" r="1.35"/><circle cx="486.2" cy="127.8" r="1.35"/><circle cx="489.4" cy="127.9" r="1.35"/><circle cx="492.6" cy="127.9" r="1.35"/><circle cx="495.8" cy="128.3" r="1.35"/><circle cx="499.0" cy="129.7" r="1.35"/><circle cx="502.2" cy="130.6" r="1.35"/><circle cx="505.5" cy="131.7" r="1.35"/><circle cx="508.9" cy="132.5" r="1.35"/><circle cx="512.5" cy="133.7" r="1.35"/><circle cx="516.2" cy="135.7" r="1.35"/><circle cx="520.0" cy="137.1" r="1.35"/><circle cx="524.0" cy="139.7" r="1.35"/><circle cx="528.2" cy="142.2" r="1.35"/><circle cx="532.5" cy="144.9" r="1.35"/><circle cx="537.0" cy="147.8" r="1.35"/><circle cx="541.7" cy="151.0" r="1.35"/><circle cx="546.4" cy="153.9" r="1.35"/><circle cx="551.1" cy="156.4" r="1.35"/><circle cx="555.8" cy="158.4" r="1.35"/><circle cx="560.5" cy="161.6" r="1.35"/><circle cx="565.2" cy="163.7" r="1.35"/><circle cx="569.9" cy="165.4" r="1.35"/><circle cx="574.6" cy="166.6" r="1.35"/><circle cx="579.3" cy="167.0" r="1.35"/><circle cx="584.0" cy="168.2" r="1.35"/><circle cx="461.6" cy="123.6" r="1.35"/><circle cx="464.6" cy="124.7" r="1.35"/><circle cx="472.8" cy="123.3" r="1.35"/><circle cx="457.1" cy="123.3" r="1.35"/><circle cx="465.1" cy="125.2" r="1.35"/><circle cx="459.6" cy="120.9" r="1.35"/><circle cx="469.2" cy="124.0" r="1.35"/><circle cx="464.0" cy="124.9" r="1.35"/><circle cx="455.9" cy="119.9" r="1.35"/><circle cx="463.4" cy="121.2" r="1.35"/><circle cx="456.8" cy="125.2" r="1.35"/><circle cx="452.2" cy="123.8" r="1.35"/><circle cx="453.7" cy="119.9" r="1.35"/><circle cx="459.2" cy="122.8" r="1.35"/><circle cx="587.3" cy="171.3" r="1.35"/><circle cx="589.2" cy="174.9" r="1.35"/><circle cx="591.8" cy="179.0" r="1.35"/><circle cx="595.0" cy="178.1" r="1.35"/><circle cx="596.9" cy="174.2" r="1.35"/><circle cx="598.8" cy="178.5" r="1.35"/><circle cx="602.0" cy="179.7" r="1.35"/></g>
<path d="M52.4 286.5 L53.2 289.3 L54.0 288.5 L54.8 286.3 L55.6 281.1 L56.4 288.9 L57.2 291.6 L58.0 289.8 L58.8 287.9 L59.6 287.7 L60.4 288.4 L61.2 290.3 L62.0 290.0 L62.8 288.4 L63.6 286.9 L64.4 288.8 L65.2 289.7 L66.0 289.0 L66.8 289.9 L67.6 291.1 L68.4 291.6 L69.2 290.8 L70.0 289.9 L70.8 290.3 L71.6 290.5 L72.4 290.8 L73.2 290.2 L74.0 290.5 L74.8 291.6 L75.6 290.8 L76.4 291.0 L77.2 291.4 L78.0 291.1 L78.8 291.3 L79.6 292.3 L80.4 292.4 L81.2 291.6 L82.0 292.3 L82.8 291.9 L83.6 292.1 L84.4 292.9 L85.2 293.7 L86.0 293.4 L86.8 294.2 L87.6 293.6 L88.4 294.3 L89.2 294.6 L90.0 294.9 L90.8 295.5 L91.6 295.6 L92.4 295.6 L93.2 295.6 L94.0 296.1 L94.8 296.6 L95.6 296.7 L96.4 296.7 L97.2 296.9 L98.0 297.9 L98.8 298.0 L99.6 298.1 L100.4 299.3 L101.2 299.2 L102.0 298.8 L102.8 298.7 L103.6 299.5 L104.4 300.0 L105.2 301.0 L106.0 301.7 L106.8 302.0 L107.6 302.0 L108.4 302.0 L109.2 301.9 L110.0 302.3 L110.8 303.0 L111.6 304.3 L112.4 305.5 L113.2 306.1 L114.0 307.1 L114.8 307.1 L115.6 307.5 L116.4 307.7 L117.2 308.7 L118.0 309.4 L118.8 310.6 L119.6 312.2 L120.4 312.9 L121.2 314.4 L122.0 315.3 L122.8 316.1 L123.6 316.2 L124.4 317.5 L125.2 318.5 L126.0 321.2 L126.8 322.5 L127.6 324.2 L128.4 324.8 L129.2 326.0 L130.0 326.7 L130.8 327.5 L131.6 328.8 L132.4 330.5 L133.2 332.5 L134.0 334.1 L134.8 336.8 L135.6 337.8 L136.4 339.1 L137.2 340.5 L138.0 341.9 L138.8 343.8 L139.6 346.2 L140.4 348.4 L141.2 351.2 L142.0 352.8 L142.8 354.9 L143.6 355.8 L144.4 357.6 L145.2 359.4 L146.0 361.7 L146.8 364.0 L147.6 365.7 L148.4 368.0 L149.2 370.6 L150.0 371.7 L150.8 372.9 L151.6 375.4 L152.4 377.2 L153.2 379.0 L154.0 381.7 L154.8 384.6 L155.6 386.2 L156.4 387.8 L157.2 389.2 L158.0 391.0 L158.8 391.4 L159.6 393.5 L160.4 395.2 L161.2 397.2 L162.0 399.0 L162.8 400.1 L163.6 401.2 L164.4 401.9 L165.2 402.7 L166.0 402.5 L166.8 404.3 L167.6 405.9 L168.4 407.2 L169.2 409.6 L170.0 410.7 L170.8 411.0 L171.6 412.1 L172.4 413.0 L173.2 413.7 L174.0 414.6 L174.8 416.4 L175.6 417.8 L176.4 418.7 L177.2 419.8 L178.0 420.8 L178.8 421.1 L179.6 420.8 L180.4 421.4 L181.2 422.7 L182.0 423.4 L182.8 424.1 L183.6 424.7 L184.4 425.1 L185.2 425.3 L186.0 424.2 L186.8 425.0 L187.6 424.8 L188.4 425.2 L189.2 426.1 L190.0 426.6 L190.8 426.9 L191.6 427.2 L192.4 426.8 L193.2 426.8 L194.0 426.0 L194.8 426.8 L195.6 426.7 L196.4 427.7 L197.2 428.0 L198.0 428.6 L198.8 427.7 L199.6 427.7 L200.4 427.8 L201.2 427.6 L202.0 427.4 L202.8 428.1 L203.6 428.8 L204.4 429.0 L205.2 429.2 L206.0 428.8 L206.8 427.5 L207.6 428.0 L208.4 428.8 L209.2 427.9 L210.0 428.4 L210.8 429.0 L211.6 429.0 L212.4 429.1 L213.2 428.7 L214.0 428.9 L214.8 427.9" fill="none" stroke="#5cb85a" stroke-width="3.2" stroke-linejoin="round" stroke-linecap="round" />
<path d="M52.4 288.8 L52.9 288.8 L53.4 288.8 L53.9 288.8 L54.4 288.9 L54.9 288.9 L55.4 288.9 L55.9 288.9 L56.4 288.9 L56.9 289.0 L57.4 289.0 L57.9 289.0 L58.4 289.0 L58.9 289.1 L59.4 289.1 L59.9 289.1 L60.4 289.1 L60.9 289.2 L61.4 289.2 L61.9 289.2 L62.4 289.3 L62.9 289.3 L63.4 289.3 L63.9 289.4 L64.4 289.4 L64.9 289.5 L65.4 289.5 L65.9 289.6 L66.4 289.6 L66.9 289.7 L67.4 289.7 L67.9 289.8 L68.4 289.8 L68.9 289.9 L69.4 290.0 L69.9 290.0 L70.4 290.1 L70.9 290.2 L71.4 290.2 L71.9 290.3 L72.4 290.4 L72.9 290.4 L73.4 290.5 L73.9 290.6 L74.4 290.7 L74.9 290.7 L75.4 290.8 L75.9 290.9 L76.4 291.0 L76.9 291.1 L77.4 291.2 L77.9 291.3 L78.4 291.4 L78.9 291.5 L79.4 291.6 L79.9 291.7 L80.4 291.8 L80.9 292.0 L81.4 292.1 L81.9 292.2 L82.4 292.3 L82.9 292.5 L83.4 292.6 L83.9 292.7 L84.4 292.9 L84.9 293.0 L85.4 293.2 L85.9 293.4 L86.4 293.5 L86.9 293.7 L87.4 293.9 L87.9 294.1 L88.4 294.2 L88.9 294.4 L89.4 294.6 L89.9 294.8 L90.4 295.0 L90.9 295.2 L91.4 295.4 L91.9 295.6 L92.4 295.7 L92.9 295.9 L93.4 296.1 L93.9 296.3 L94.4 296.5 L94.9 296.6 L95.4 296.8 L95.9 297.0 L96.4 297.1 L96.9 297.3 L97.4 297.5 L97.9 297.7 L98.4 297.8 L98.9 298.0 L99.4 298.2 L99.9 298.4 L100.4 298.5 L100.9 298.7 L101.4 298.9 L101.9 299.1 L102.4 299.3 L102.9 299.5 L103.4 299.7 L103.9 299.9 L104.4 300.1 L104.9 300.3 L105.4 300.6 L105.9 300.8 L106.4 301.0 L106.9 301.3 L107.4 301.5 L107.9 301.8 L108.4 302.1 L108.9 302.3 L109.4 302.6 L109.9 302.9 L110.4 303.3 L110.9 303.6 L111.4 304.0 L111.9 304.4 L112.4 304.8 L112.9 305.3 L113.4 305.7 L113.9 306.2 L114.4 306.6 L114.9 307.1 L115.4 307.6 L115.9 308.0 L116.4 308.5 L116.9 309.0 L117.4 309.5 L117.9 310.0 L118.4 310.6 L118.9 311.1 L119.4 311.7 L119.9 312.2 L120.4 312.8 L120.9 313.4 L121.4 314.1 L121.9 314.7 L122.4 315.4 L122.9 316.1 L123.4 316.8 L123.9 317.6 L124.4 318.3 L124.9 319.1 L125.4 319.9 L125.9 320.7 L126.4 321.5 L126.9 322.3 L127.4 323.1 L127.9 323.9 L128.4 324.7 L128.9 325.5 L129.4 326.2 L129.9 327.0 L130.4 327.8 L130.9 328.7 L131.4 329.5 L131.9 330.3 L132.4 331.2 L132.9 332.1 L133.4 333.0 L133.9 333.9 L134.4 334.9 L134.9 335.9 L135.4 336.9 L135.9 338.0 L136.4 339.1 L136.9 340.2 L137.4 341.3 L137.9 342.4 L138.4 343.6 L138.9 344.7 L139.4 345.9 L139.9 347.1 L140.4 348.3 L140.9 349.5 L141.4 350.7 L141.9 352.0 L142.4 353.2 L142.9 354.4 L143.4 355.7 L143.9 356.9 L144.4 358.1 L144.9 359.2 L145.4 360.4 L145.9 361.6 L146.4 362.8 L146.9 364.0 L147.4 365.2 L147.9 366.4 L148.4 367.6 L148.9 368.8 L149.4 370.0 L149.9 371.2 L150.4 372.5 L150.9 373.8 L151.4 375.1 L151.9 376.5 L152.4 377.8 L152.9 379.1 L153.4 380.4 L153.9 381.7 L154.4 382.9 L154.9 384.1 L155.4 385.2 L155.9 386.3 L156.4 387.5 L156.9 388.6 L157.4 389.6 L157.9 390.7 L158.4 391.7 L158.9 392.7 L159.4 393.7 L159.9 394.7 L160.4 395.6 L160.9 396.5 L161.4 397.3 L161.9 398.1 L162.4 398.9 L162.9 399.6 L163.4 400.3 L163.9 401.0 L164.4 401.7 L164.9 402.4 L165.4 403.1 L165.9 403.8 L166.4 404.4 L166.9 405.2 L167.4 405.9 L167.9 406.6 L168.4 407.4 L168.9 408.2 L169.4 409.0 L169.9 409.7 L170.4 410.5 L170.9 411.2 L171.4 412.0 L171.9 412.7 L172.4 413.4 L172.9 414.0 L173.4 414.6 L173.9 415.3 L174.4 415.9 L174.9 416.5 L175.4 417.1 L175.9 417.7 L176.4 418.3 L176.9 418.9 L177.4 419.5 L177.9 420.0 L178.4 420.5 L178.9 421.0 L179.4 421.5 L179.9 421.9 L180.4 422.3 L180.9 422.6 L181.4 422.9 L181.9 423.2 L182.4 423.5 L182.9 423.7 L183.4 424.0 L183.9 424.2 L184.4 424.5 L184.9 424.7 L185.4 424.9 L185.9 425.1 L186.4 425.3 L186.9 425.5 L187.4 425.6 L187.9 425.8 L188.4 426.0 L188.9 426.1 L189.4 426.2 L189.9 426.4 L190.4 426.5 L190.9 426.6 L191.4 426.7 L191.9 426.7 L192.4 426.8 L192.9 426.9 L193.4 427.0 L193.9 427.1 L194.4 427.2 L194.9 427.2 L195.4 427.3 L195.9 427.4 L196.4 427.4 L196.9 427.5 L197.4 427.5 L197.9 427.6 L198.4 427.7 L198.9 427.7 L199.4 427.8 L199.9 427.8 L200.4 427.8 L200.9 427.9 L201.4 427.9 L201.9 428.0 L202.4 428.0 L202.9 428.0 L203.4 428.1 L203.9 428.1 L204.4 428.1 L204.9 428.2 L205.4 428.2 L205.9 428.2 L206.4 428.3 L206.9 428.3 L207.4 428.3 L207.9 428.4 L208.4 428.4 L208.9 428.4 L209.4 428.4 L209.9 428.5 L210.4 428.5 L210.9 428.5 L211.4 428.5 L211.9 428.5 L212.4 428.5 L212.9 428.6 L213.4 428.6 L213.9 428.6 L214.4 428.6 L214.9 428.6" fill="none" stroke="#000" stroke-width="1.25" stroke-dasharray="8,3.5"/>
<path d="M52.8 384.0 L53.6 382.1 L54.4 384.7 L55.2 385.0 L56.0 381.3 L56.8 382.3 L57.6 384.2 L58.4 383.8 L59.2 384.2 L60.0 383.4 L60.8 385.3 L61.6 385.2 L62.4 384.6 L63.2 385.6 L64.0 385.1 L64.8 384.0 L65.6 385.1 L66.4 384.1 L67.2 385.6 L68.0 385.0 L68.8 384.9 L69.6 384.6 L70.4 386.0 L71.2 385.1 L72.0 385.0 L72.8 385.1 L73.6 385.7 L74.4 385.7 L75.2 385.7 L76.0 385.8 L76.8 386.8 L77.6 385.4 L78.4 385.4 L79.2 385.3 L80.0 386.1 L80.8 386.4 L81.6 385.9 L82.4 385.6 L83.2 385.7 L84.0 386.4 L84.8 386.5 L85.6 386.4 L86.4 386.0 L87.2 386.4 L88.0 386.4 L88.8 386.5 L89.6 386.8 L90.4 386.6 L91.2 386.9 L92.0 386.7 L92.8 386.8 L93.6 387.0 L94.4 386.3 L95.2 386.8 L96.0 386.8 L96.8 386.8 L97.6 387.1 L98.4 387.8 L99.2 387.0 L100.0 387.8 L100.8 386.9 L101.6 387.5 L102.4 387.8 L103.2 388.1 L104.0 388.3 L104.8 388.5 L105.6 388.2 L106.4 388.4 L107.2 389.0 L108.0 388.8 L108.8 388.7 L109.6 388.9 L110.4 389.2 L111.2 389.9 L112.0 390.0 L112.8 390.4 L113.6 390.3 L114.4 390.8 L115.2 391.3 L116.0 391.3 L116.8 391.9 L117.6 391.9 L118.4 392.4 L119.2 392.8 L120.0 392.9 L120.8 393.8 L121.6 393.9 L122.4 394.4 L123.2 394.9 L124.0 395.3 L124.8 395.8 L125.6 395.9 L126.4 396.2 L127.2 396.8 L128.0 396.7 L128.8 397.2 L129.6 397.7 L130.4 398.3 L131.2 399.2 L132.0 399.2 L132.8 399.9 L133.6 400.9 L134.4 400.9 L135.2 401.7 L136.0 401.7 L136.8 402.5 L137.6 402.7 L138.4 403.4 L139.2 404.3 L140.0 404.1 L140.8 405.2 L141.6 405.7 L142.4 405.9 L143.2 406.2 L144.0 407.2 L144.8 407.5 L145.6 408.3 L146.4 408.8 L147.2 409.8 L148.0 409.8 L148.8 410.1 L149.6 411.1 L150.4 411.7 L151.2 412.6 L152.0 413.1 L152.8 413.6 L153.6 414.5 L154.4 414.4 L155.2 415.1 L156.0 415.6 L156.8 416.3 L157.6 416.6 L158.4 417.7 L159.2 418.0 L160.0 418.1 L160.8 418.7 L161.6 419.6 L162.4 420.3 L163.2 421.1 L164.0 421.8 L164.8 421.5 L165.6 421.5 L166.4 421.5 L167.2 422.6 L168.0 422.6 L168.8 423.0 L169.6 423.3 L170.4 423.7 L171.2 424.4 L172.0 424.4 L172.8 424.6 L173.6 424.6 L174.4 424.7 L175.2 425.3 L176.0 425.6 L176.8 426.4 L177.6 426.1 L178.4 426.6 L179.2 426.3 L180.0 426.3 L180.8 426.6 L181.6 426.8 L182.4 427.9 L183.2 427.2 L184.0 427.8 L184.8 427.5 L185.6 428.2 L186.4 428.2 L187.2 428.1 L188.0 428.3 L188.8 428.2 L189.6 428.7 L190.4 428.5 L191.2 428.4 L192.0 428.5 L192.8 429.0 L193.6 429.6 L194.4 429.2 L195.2 429.3 L196.0 429.5 L196.8 429.9 L197.6 429.6 L198.4 429.5 L199.2 430.0 L200.0 429.9 L200.8 430.3 L201.6 429.9 L202.4 429.5 L203.2 429.5 L204.0 430.5 L204.8 430.5 L205.6 430.0 L206.4 429.9 L207.2 430.5 L208.0 429.8 L208.8 429.9 L209.6 430.3 L210.4 430.0 L211.2 430.2 L212.0 430.1 L212.8 430.3 L213.6 430.6" fill="none" stroke="#e63624" stroke-width="3.2" stroke-linejoin="round" stroke-linecap="round" />
<path d="M52.8 383.5 L53.3 383.6 L53.8 383.6 L54.3 383.7 L54.8 383.7 L55.3 383.8 L55.8 383.8 L56.3 383.9 L56.8 383.9 L57.3 384.0 L57.8 384.1 L58.3 384.1 L58.8 384.2 L59.3 384.2 L59.8 384.3 L60.3 384.3 L60.8 384.4 L61.3 384.4 L61.8 384.5 L62.3 384.5 L62.8 384.6 L63.3 384.6 L63.8 384.6 L64.3 384.7 L64.8 384.7 L65.3 384.8 L65.8 384.8 L66.3 384.9 L66.8 384.9 L67.3 384.9 L67.8 385.0 L68.3 385.0 L68.8 385.1 L69.3 385.1 L69.8 385.1 L70.3 385.2 L70.8 385.2 L71.3 385.2 L71.8 385.3 L72.3 385.3 L72.8 385.3 L73.3 385.4 L73.8 385.4 L74.3 385.4 L74.8 385.5 L75.3 385.5 L75.8 385.5 L76.3 385.6 L76.8 385.6 L77.3 385.6 L77.8 385.7 L78.3 385.7 L78.8 385.7 L79.3 385.8 L79.8 385.8 L80.3 385.8 L80.8 385.9 L81.3 385.9 L81.8 385.9 L82.3 386.0 L82.8 386.0 L83.3 386.0 L83.8 386.1 L84.3 386.1 L84.8 386.2 L85.3 386.2 L85.8 386.2 L86.3 386.3 L86.8 386.3 L87.3 386.3 L87.8 386.4 L88.3 386.4 L88.8 386.4 L89.3 386.5 L89.8 386.5 L90.3 386.5 L90.8 386.6 L91.3 386.6 L91.8 386.6 L92.3 386.7 L92.8 386.7 L93.3 386.8 L93.8 386.8 L94.3 386.8 L94.8 386.9 L95.3 386.9 L95.8 387.0 L96.3 387.0 L96.8 387.1 L97.3 387.1 L97.8 387.2 L98.3 387.2 L98.8 387.3 L99.3 387.3 L99.8 387.4 L100.3 387.5 L100.8 387.5 L101.3 387.6 L101.8 387.7 L102.3 387.8 L102.8 387.8 L103.3 387.9 L103.8 388.0 L104.3 388.1 L104.8 388.2 L105.3 388.3 L105.8 388.4 L106.3 388.5 L106.8 388.6 L107.3 388.7 L107.8 388.9 L108.3 389.0 L108.8 389.1 L109.3 389.2 L109.8 389.4 L110.3 389.5 L110.8 389.6 L111.3 389.8 L111.8 389.9 L112.3 390.0 L112.8 390.2 L113.3 390.4 L113.8 390.5 L114.3 390.7 L114.8 390.9 L115.3 391.1 L115.8 391.3 L116.3 391.6 L116.8 391.8 L117.3 392.0 L117.8 392.2 L118.3 392.5 L118.8 392.7 L119.3 392.9 L119.8 393.2 L120.3 393.4 L120.8 393.6 L121.3 393.9 L121.8 394.1 L122.3 394.3 L122.8 394.6 L123.3 394.8 L123.8 395.1 L124.3 395.3 L124.8 395.6 L125.3 395.8 L125.8 396.1 L126.3 396.3 L126.8 396.6 L127.3 396.9 L127.8 397.1 L128.3 397.4 L128.8 397.7 L129.3 397.9 L129.8 398.2 L130.3 398.5 L130.8 398.8 L131.3 399.1 L131.8 399.4 L132.3 399.7 L132.8 400.0 L133.3 400.3 L133.8 400.6 L134.3 400.9 L134.8 401.3 L135.3 401.6 L135.8 401.9 L136.3 402.2 L136.8 402.5 L137.3 402.8 L137.8 403.2 L138.3 403.5 L138.8 403.8 L139.3 404.1 L139.8 404.4 L140.3 404.8 L140.8 405.1 L141.3 405.4 L141.8 405.7 L142.3 406.1 L142.8 406.4 L143.3 406.7 L143.8 407.0 L144.3 407.4 L144.8 407.7 L145.3 408.0 L145.8 408.4 L146.3 408.7 L146.8 409.0 L147.3 409.4 L147.8 409.7 L148.3 410.1 L148.8 410.4 L149.3 410.8 L149.8 411.2 L150.3 411.5 L150.8 411.9 L151.3 412.3 L151.8 412.7 L152.3 413.1 L152.8 413.5 L153.3 413.9 L153.8 414.3 L154.3 414.6 L154.8 415.0 L155.3 415.4 L155.8 415.8 L156.3 416.1 L156.8 416.5 L157.3 416.8 L157.8 417.1 L158.3 417.5 L158.8 417.8 L159.3 418.1 L159.8 418.4 L160.3 418.7 L160.8 419.0 L161.3 419.4 L161.8 419.7 L162.3 420.0 L162.8 420.2 L163.3 420.5 L163.8 420.8 L164.3 421.1 L164.8 421.4 L165.3 421.6 L165.8 421.9 L166.3 422.1 L166.8 422.3 L167.3 422.5 L167.8 422.7 L168.3 422.9 L168.8 423.1 L169.3 423.3 L169.8 423.5 L170.3 423.7 L170.8 423.9 L171.3 424.1 L171.8 424.3 L172.3 424.5 L172.8 424.6 L173.3 424.8 L173.8 425.0 L174.3 425.1 L174.8 425.3 L175.3 425.4 L175.8 425.6 L176.3 425.7 L176.8 425.9 L177.3 426.0 L177.8 426.1 L178.3 426.3 L178.8 426.4 L179.3 426.5 L179.8 426.6 L180.3 426.8 L180.8 426.9 L181.3 427.0 L181.8 427.1 L182.3 427.2 L182.8 427.3 L183.3 427.4 L183.8 427.5 L184.3 427.6 L184.8 427.7 L185.3 427.8 L185.8 427.9 L186.3 428.0 L186.8 428.1 L187.3 428.2 L187.8 428.3 L188.3 428.4 L188.8 428.4 L189.3 428.5 L189.8 428.6 L190.3 428.7 L190.8 428.7 L191.3 428.8 L191.8 428.9 L192.3 428.9 L192.8 429.0 L193.3 429.1 L193.8 429.1 L194.3 429.2 L194.8 429.2 L195.3 429.3 L195.8 429.4 L196.3 429.4 L196.8 429.5 L197.3 429.5 L197.8 429.6 L198.3 429.6 L198.8 429.7 L199.3 429.7 L199.8 429.7 L200.3 429.8 L200.8 429.8 L201.3 429.8 L201.8 429.9 L202.3 429.9 L202.8 429.9 L203.3 429.9 L203.8 430.0 L204.3 430.0 L204.8 430.0 L205.3 430.0 L205.8 430.0 L206.3 430.0 L206.8 430.1 L207.3 430.1 L207.8 430.1 L208.3 430.1 L208.8 430.1 L209.3 430.1 L209.8 430.1 L210.3 430.2 L210.8 430.2 L211.3 430.2 L211.8 430.2 L212.3 430.2 L212.8 430.2 L213.3 430.2 L213.8 430.2" fill="none" stroke="#000" stroke-width="1.25" stroke-dasharray="8,3.5"/>
<g fill="#000"><circle cx="52.3" cy="421.5" r="1.5"/><circle cx="56.7" cy="424.0" r="1.5"/><circle cx="61.1" cy="424.1" r="1.5"/><circle cx="65.5" cy="424.1" r="1.5"/><circle cx="69.9" cy="424.1" r="1.5"/><circle cx="74.3" cy="424.1" r="1.5"/><circle cx="78.7" cy="424.1" r="1.5"/><circle cx="83.1" cy="424.1" r="1.5"/><circle cx="87.5" cy="424.2" r="1.5"/><circle cx="91.9" cy="424.2" r="1.5"/><circle cx="96.3" cy="424.3" r="1.5"/><circle cx="100.7" cy="424.4" r="1.5"/><circle cx="105.1" cy="424.5" r="1.5"/><circle cx="109.5" cy="424.7" r="1.5"/><circle cx="113.9" cy="424.9" r="1.5"/><circle cx="118.3" cy="425.1" r="1.5"/><circle cx="122.7" cy="425.3" r="1.5"/><circle cx="127.1" cy="425.6" r="1.5"/><circle cx="131.5" cy="426.0" r="1.5"/><circle cx="135.9" cy="426.3" r="1.5"/><circle cx="140.3" cy="426.7" r="1.5"/><circle cx="144.7" cy="427.0" r="1.5"/><circle cx="149.1" cy="427.3" r="1.5"/><circle cx="153.5" cy="427.7" r="1.5"/><circle cx="157.9" cy="428.0" r="1.5"/><circle cx="162.3" cy="428.3" r="1.5"/><circle cx="166.7" cy="428.7" r="1.5"/><circle cx="171.1" cy="429.0" r="1.5"/><circle cx="175.5" cy="429.4" r="1.5"/><circle cx="179.9" cy="429.7" r="1.5"/><circle cx="184.3" cy="430.1" r="1.5"/><circle cx="188.7" cy="430.5" r="1.5"/><circle cx="193.1" cy="430.8" r="1.5"/><circle cx="197.5" cy="431.1" r="1.5"/><circle cx="201.9" cy="431.4" r="1.5"/><circle cx="206.3" cy="431.8" r="1.5"/><circle cx="210.7" cy="432.1" r="1.5"/></g>
<path d="M253.9 276.3 L254.7 274.3 L255.5 273.5 L256.3 280.3 L257.1 280.4 L257.9 281.3 L258.7 281.2 L259.5 285.5 L260.3 281.3 L261.1 280.1 L261.9 282.0 L262.7 283.3 L263.5 283.4 L264.3 286.0 L265.1 283.0 L265.9 281.3 L266.7 285.7 L267.5 284.6 L268.3 288.6 L269.1 290.8 L269.9 283.4 L270.7 282.6 L271.5 283.5 L272.3 289.7 L273.1 287.6 L273.9 286.9 L274.7 285.2 L275.5 282.6 L276.3 283.6 L277.1 286.7 L277.9 285.3 L278.7 285.6 L279.5 286.8 L280.3 286.9 L281.1 286.2 L281.9 286.7 L282.7 287.4 L283.5 288.2 L284.3 287.0 L285.1 288.5 L285.9 288.7 L286.7 289.8 L287.5 287.6 L288.3 289.0 L289.1 289.3 L289.9 290.5 L290.7 289.4 L291.5 290.0 L292.3 290.7 L293.1 291.2 L293.9 291.4 L294.7 290.9 L295.5 292.6 L296.3 291.8 L297.1 292.6 L297.9 293.1 L298.7 292.8 L299.5 293.5 L300.3 292.7 L301.1 294.0 L301.9 294.5 L302.7 294.6 L303.5 295.2 L304.3 295.1 L305.1 295.8 L305.9 295.3 L306.7 295.5 L307.5 296.8 L308.3 297.6 L309.1 299.5 L309.9 299.8 L310.7 299.5 L311.5 299.3 L312.3 300.5 L313.1 300.1 L313.9 300.0 L314.7 301.6 L315.5 301.8 L316.3 303.7 L317.1 304.0 L317.9 303.7 L318.7 304.1 L319.5 303.8 L320.3 305.7 L321.1 306.1 L321.9 307.4 L322.7 308.9 L323.5 309.4 L324.3 310.2 L325.1 310.9 L325.9 311.7 L326.7 312.0 L327.5 313.1 L328.3 314.7 L329.1 316.2 L329.9 317.6 L330.7 318.9 L331.5 320.3 L332.3 321.8 L333.1 323.2 L333.9 324.6 L334.7 326.0 L335.5 328.7 L336.3 331.2 L337.1 334.1 L337.9 335.5 L338.7 337.9 L339.5 339.0 L340.3 340.3 L341.1 342.8 L341.9 344.6 L342.7 345.7 L343.5 348.6 L344.3 351.0 L345.1 353.0 L345.9 353.9 L346.7 356.0 L347.5 357.4 L348.3 358.8 L349.1 361.4 L349.9 363.2 L350.7 365.7 L351.5 367.5 L352.3 369.9 L353.1 371.5 L353.9 372.8 L354.7 374.3 L355.5 376.5 L356.3 378.7 L357.1 381.0 L357.9 383.1 L358.7 385.5 L359.5 386.6 L360.3 388.1 L361.1 389.8 L361.9 390.4 L362.7 392.3 L363.5 394.2 L364.3 395.7 L365.1 397.3 L365.9 398.9 L366.7 399.7 L367.5 401.4 L368.3 402.3 L369.1 403.6 L369.9 405.3 L370.7 406.3 L371.5 407.8 L372.3 409.2 L373.1 410.0 L373.9 410.3 L374.7 411.1 L375.5 412.0 L376.3 412.7 L377.1 413.8 L377.9 414.8 L378.7 416.3 L379.5 417.2 L380.3 418.1 L381.1 418.3 L381.9 418.9 L382.7 419.7 L383.5 420.9 L384.3 421.5 L385.1 422.7 L385.9 424.1 L386.7 424.2 L387.5 424.2 L388.3 423.7 L389.1 424.1 L389.9 424.7 L390.7 424.2 L391.5 425.0 L392.3 425.7 L393.1 426.4 L393.9 426.3 L394.7 426.9 L395.5 426.6 L396.3 425.9 L397.1 425.3 L397.9 426.7 L398.7 427.1 L399.5 427.6 L400.3 427.4 L401.1 427.9 L401.9 428.0 L402.7 427.9 L403.5 427.6 L404.3 428.0 L405.1 427.7 L405.9 428.3 L406.7 429.5 L407.5 430.5 L408.3 430.0 L409.1 430.1 L409.9 431.1 L410.7 430.3 L411.5 430.8 L412.3 431.7 L413.1 431.6 L413.9 432.6 L414.7 433.1 L415.5 433.0 L416.3 432.7" fill="none" stroke="#5cb85a" stroke-width="3.2" stroke-linejoin="round" stroke-linecap="round" />
<path d="M253.9 278.2 L254.4 278.6 L254.9 278.9 L255.4 279.2 L255.9 279.6 L256.4 279.9 L256.9 280.2 L257.4 280.5 L257.9 280.8 L258.4 281.1 L258.9 281.4 L259.4 281.6 L259.9 281.8 L260.4 282.0 L260.9 282.2 L261.4 282.4 L261.9 282.6 L262.4 282.7 L262.9 282.8 L263.4 282.9 L263.9 283.1 L264.4 283.2 L264.9 283.3 L265.4 283.4 L265.9 283.5 L266.4 283.6 L266.9 283.6 L267.4 283.7 L267.9 283.8 L268.4 283.9 L268.9 284.0 L269.4 284.1 L269.9 284.2 L270.4 284.3 L270.9 284.4 L271.4 284.5 L271.9 284.6 L272.4 284.7 L272.9 284.8 L273.4 284.9 L273.9 285.0 L274.4 285.2 L274.9 285.3 L275.4 285.4 L275.9 285.5 L276.4 285.7 L276.9 285.8 L277.4 285.9 L277.9 286.1 L278.4 286.2 L278.9 286.3 L279.4 286.5 L279.9 286.6 L280.4 286.7 L280.9 286.9 L281.4 287.0 L281.9 287.2 L282.4 287.3 L282.9 287.5 L283.4 287.6 L283.9 287.8 L284.4 287.9 L284.9 288.1 L285.4 288.2 L285.9 288.4 L286.4 288.6 L286.9 288.7 L287.4 288.9 L287.9 289.1 L288.4 289.2 L288.9 289.4 L289.4 289.6 L289.9 289.7 L290.4 289.9 L290.9 290.1 L291.4 290.3 L291.9 290.5 L292.4 290.6 L292.9 290.8 L293.4 291.0 L293.9 291.2 L294.4 291.4 L294.9 291.5 L295.4 291.7 L295.9 291.9 L296.4 292.1 L296.9 292.3 L297.4 292.5 L297.9 292.7 L298.4 292.9 L298.9 293.1 L299.4 293.3 L299.9 293.5 L300.4 293.7 L300.9 293.9 L301.4 294.1 L301.9 294.3 L302.4 294.5 L302.9 294.7 L303.4 295.0 L303.9 295.2 L304.4 295.4 L304.9 295.7 L305.4 296.0 L305.9 296.2 L306.4 296.5 L306.9 296.8 L307.4 297.0 L307.9 297.3 L308.4 297.6 L308.9 297.9 L309.4 298.2 L309.9 298.5 L310.4 298.8 L310.9 299.2 L311.4 299.5 L311.9 299.8 L312.4 300.1 L312.9 300.4 L313.4 300.8 L313.9 301.1 L314.4 301.4 L314.9 301.8 L315.4 302.1 L315.9 302.4 L316.4 302.8 L316.9 303.1 L317.4 303.5 L317.9 303.8 L318.4 304.2 L318.9 304.6 L319.4 305.0 L319.9 305.4 L320.4 305.9 L320.9 306.3 L321.4 306.8 L321.9 307.3 L322.4 307.8 L322.9 308.3 L323.4 308.9 L323.9 309.4 L324.4 310.0 L324.9 310.6 L325.4 311.2 L325.9 311.8 L326.4 312.4 L326.9 313.1 L327.4 313.7 L327.9 314.4 L328.4 315.1 L328.9 315.8 L329.4 316.6 L329.9 317.4 L330.4 318.2 L330.9 319.0 L331.4 319.9 L331.9 320.8 L332.4 321.7 L332.9 322.7 L333.4 323.7 L333.9 324.8 L334.4 325.9 L334.9 327.1 L335.4 328.4 L335.9 329.8 L336.4 331.2 L336.9 332.5 L337.4 333.9 L337.9 335.2 L338.4 336.4 L338.9 337.5 L339.4 338.7 L339.9 339.8 L340.4 341.0 L340.9 342.1 L341.4 343.3 L341.9 344.4 L342.4 345.6 L342.9 346.8 L343.4 348.0 L343.9 349.2 L344.4 350.4 L344.9 351.6 L345.4 352.8 L345.9 354.0 L346.4 355.2 L346.9 356.4 L347.4 357.6 L347.9 358.8 L348.4 359.9 L348.9 361.1 L349.4 362.3 L349.9 363.5 L350.4 364.7 L350.9 365.8 L351.4 367.0 L351.9 368.2 L352.4 369.4 L352.9 370.6 L353.4 371.9 L353.9 373.1 L354.4 374.3 L354.9 375.6 L355.4 376.8 L355.9 378.0 L356.4 379.2 L356.9 380.4 L357.4 381.6 L357.9 382.8 L358.4 383.9 L358.9 385.0 L359.4 386.0 L359.9 387.1 L360.4 388.2 L360.9 389.2 L361.4 390.2 L361.9 391.2 L362.4 392.2 L362.9 393.2 L363.4 394.1 L363.9 395.1 L364.4 396.0 L364.9 396.9 L365.4 397.8 L365.9 398.7 L366.4 399.5 L366.9 400.4 L367.4 401.2 L367.9 402.1 L368.4 402.9 L368.9 403.7 L369.4 404.4 L369.9 405.2 L370.4 405.9 L370.9 406.6 L371.4 407.3 L371.9 408.0 L372.4 408.7 L372.9 409.3 L373.4 409.9 L373.9 410.5 L374.4 411.1 L374.9 411.7 L375.4 412.3 L375.9 412.9 L376.4 413.4 L376.9 414.0 L377.4 414.5 L377.9 415.0 L378.4 415.6 L378.9 416.1 L379.4 416.6 L379.9 417.2 L380.4 417.7 L380.9 418.3 L381.4 418.8 L381.9 419.4 L382.4 419.9 L382.9 420.4 L383.4 420.9 L383.9 421.4 L384.4 421.9 L384.9 422.3 L385.4 422.7 L385.9 423.0 L386.4 423.3 L386.9 423.6 L387.4 423.8 L387.9 424.1 L388.4 424.3 L388.9 424.5 L389.4 424.7 L389.9 424.8 L390.4 425.0 L390.9 425.2 L391.4 425.3 L391.9 425.5 L392.4 425.6 L392.9 425.8 L393.4 425.9 L393.9 426.0 L394.4 426.2 L394.9 426.3 L395.4 426.4 L395.9 426.5 L396.4 426.7 L396.9 426.8 L397.4 426.9 L397.9 427.0 L398.4 427.1 L398.9 427.2 L399.4 427.3 L399.9 427.4 L400.4 427.5 L400.9 427.6 L401.4 427.7 L401.9 427.8 L402.4 427.9 L402.9 428.0 L403.4 428.1 L403.9 428.2 L404.4 428.3 L404.9 428.5 L405.4 428.6 L405.9 428.8 L406.4 429.0 L406.9 429.3 L407.4 429.5 L407.9 429.8 L408.4 430.0 L408.9 430.3 L409.4 430.5 L409.9 430.8 L410.4 431.0 L410.9 431.2 L411.4 431.3 L411.9 431.5 L412.4 431.7 L412.9 431.8 L413.4 432.0 L413.9 432.1 L414.4 432.3 L414.9 432.4 L415.4 432.5 L415.9 432.7 L416.4 432.8" fill="none" stroke="#000" stroke-width="1.0" stroke-dasharray="8,3.5"/>
<path d="M253.7 392.6 L254.5 393.6 L255.3 393.3 L256.1 392.9 L256.9 392.1 L257.7 392.1 L258.5 393.1 L259.3 393.9 L260.1 393.5 L260.9 395.6 L261.7 395.5 L262.5 395.5 L263.3 395.1 L264.1 392.6 L264.9 393.0 L265.7 392.3 L266.5 393.9 L267.3 395.9 L268.1 396.9 L268.9 396.4 L269.7 395.9 L270.5 392.6 L271.3 393.5 L272.1 395.5 L272.9 396.6 L273.7 396.6 L274.5 396.6 L275.3 396.3 L276.1 396.5 L276.9 396.3 L277.7 397.1 L278.5 396.8 L279.3 397.1 L280.1 396.6 L280.9 396.1 L281.7 397.5 L282.5 397.4 L283.3 397.6 L284.1 397.5 L284.9 397.5 L285.7 397.6 L286.5 398.1 L287.3 397.6 L288.1 397.8 L288.9 398.0 L289.7 398.1 L290.5 398.8 L291.3 398.0 L292.1 399.0 L292.9 398.4 L293.7 398.4 L294.5 398.4 L295.3 398.8 L296.1 399.1 L296.9 398.5 L297.7 398.8 L298.5 398.8 L299.3 398.8 L300.1 398.8 L300.9 399.2 L301.7 399.4 L302.5 399.4 L303.3 399.2 L304.1 399.5 L304.9 399.8 L305.7 399.8 L306.5 400.0 L307.3 399.7 L308.1 400.1 L308.9 400.2 L309.7 399.9 L310.5 400.1 L311.3 400.1 L312.1 400.4 L312.9 400.4 L313.7 400.6 L314.5 400.7 L315.3 400.6 L316.1 401.0 L316.9 400.7 L317.7 401.1 L318.5 400.7 L319.3 401.1 L320.1 401.7 L320.9 401.6 L321.7 401.9 L322.5 401.8 L323.3 401.8 L324.1 402.1 L324.9 402.6 L325.7 402.7 L326.5 403.4 L327.3 403.6 L328.1 403.6 L328.9 403.4 L329.7 403.9 L330.5 404.0 L331.3 404.3 L332.1 404.6 L332.9 405.0 L333.7 405.3 L334.5 405.7 L335.3 405.6 L336.1 406.2 L336.9 406.9 L337.7 407.2 L338.5 407.0 L339.3 407.7 L340.1 408.0 L340.9 407.9 L341.7 408.6 L342.5 408.9 L343.3 409.1 L344.1 409.8 L344.9 409.6 L345.7 410.1 L346.5 410.5 L347.3 410.9 L348.1 411.0 L348.9 411.6 L349.7 412.0 L350.5 412.9 L351.3 413.0 L352.1 413.0 L352.9 413.8 L353.7 413.6 L354.5 414.3 L355.3 415.0 L356.1 414.6 L356.9 415.7 L357.7 415.9 L358.5 416.0 L359.3 416.8 L360.1 416.7 L360.9 417.6 L361.7 417.7 L362.5 418.4 L363.3 418.2 L364.1 419.0 L364.9 419.4 L365.7 419.4 L366.5 420.4 L367.3 420.0 L368.1 421.2 L368.9 421.5 L369.7 421.2 L370.5 422.1 L371.3 422.1 L372.1 422.4 L372.9 422.7 L373.7 422.5 L374.5 423.2 L375.3 423.5 L376.1 424.0 L376.9 423.6 L377.7 424.4 L378.5 424.9 L379.3 424.8 L380.1 425.4 L380.9 425.6 L381.7 425.7 L382.5 426.0 L383.3 426.4 L384.1 426.0 L384.9 426.8 L385.7 426.7 L386.5 427.0 L387.3 427.1 L388.1 427.3 L388.9 427.8 L389.7 427.9 L390.5 427.9 L391.3 427.7 L392.1 428.4 L392.9 428.6 L393.7 429.1 L394.5 428.5 L395.3 428.9 L396.1 428.9 L396.9 428.3 L397.7 428.9 L398.5 429.2 L399.3 429.0 L400.1 429.7 L400.9 429.4 L401.7 429.3 L402.5 429.7 L403.3 429.4 L404.1 429.8 L404.9 429.7 L405.7 429.7 L406.5 429.5 L407.3 429.7 L408.1 429.8 L408.9 429.8 L409.7 429.9 L410.5 430.2 L411.3 429.8 L412.1 429.6" fill="none" stroke="#e63624" stroke-width="3.4" stroke-linejoin="round" stroke-linecap="round" />
<path d="M253.7 393.3 L254.2 393.3 L254.7 393.4 L255.2 393.4 L255.7 393.5 L256.2 393.5 L256.7 393.6 L257.2 393.6 L257.7 393.7 L258.2 393.7 L258.7 393.8 L259.2 393.8 L259.7 393.9 L260.2 394.0 L260.7 394.0 L261.2 394.1 L261.7 394.1 L262.2 394.2 L262.7 394.2 L263.2 394.3 L263.7 394.4 L264.2 394.4 L264.7 394.5 L265.2 394.5 L265.7 394.6 L266.2 394.7 L266.7 394.7 L267.2 394.8 L267.7 394.9 L268.2 395.0 L268.7 395.0 L269.2 395.1 L269.7 395.2 L270.2 395.3 L270.7 395.4 L271.2 395.5 L271.7 395.5 L272.2 395.6 L272.7 395.7 L273.2 395.8 L273.7 395.9 L274.2 396.0 L274.7 396.1 L275.2 396.1 L275.7 396.2 L276.2 396.3 L276.7 396.4 L277.2 396.5 L277.7 396.6 L278.2 396.7 L278.7 396.7 L279.2 396.8 L279.7 396.9 L280.2 397.0 L280.7 397.0 L281.2 397.1 L281.7 397.2 L282.2 397.2 L282.7 397.3 L283.2 397.4 L283.7 397.4 L284.2 397.5 L284.7 397.5 L285.2 397.6 L285.7 397.6 L286.2 397.7 L286.7 397.7 L287.2 397.8 L287.7 397.8 L288.2 397.9 L288.7 397.9 L289.2 398.0 L289.7 398.0 L290.2 398.1 L290.7 398.1 L291.2 398.2 L291.7 398.2 L292.2 398.3 L292.7 398.3 L293.2 398.4 L293.7 398.4 L294.2 398.5 L294.7 398.5 L295.2 398.5 L295.7 398.6 L296.2 398.6 L296.7 398.7 L297.2 398.7 L297.7 398.8 L298.2 398.8 L298.7 398.9 L299.2 398.9 L299.7 399.0 L300.2 399.0 L300.7 399.1 L301.2 399.1 L301.7 399.2 L302.2 399.3 L302.7 399.3 L303.2 399.4 L303.7 399.4 L304.2 399.5 L304.7 399.5 L305.2 399.6 L305.7 399.6 L306.2 399.7 L306.7 399.7 L307.2 399.8 L307.7 399.8 L308.2 399.9 L308.7 399.9 L309.2 400.0 L309.7 400.1 L310.2 400.1 L310.7 400.2 L311.2 400.2 L311.7 400.3 L312.2 400.3 L312.7 400.4 L313.2 400.5 L313.7 400.5 L314.2 400.6 L314.7 400.7 L315.2 400.7 L315.7 400.8 L316.2 400.9 L316.7 401.0 L317.2 401.0 L317.7 401.1 L318.2 401.2 L318.7 401.3 L319.2 401.4 L319.7 401.5 L320.2 401.6 L320.7 401.7 L321.2 401.8 L321.7 401.9 L322.2 402.0 L322.7 402.1 L323.2 402.2 L323.7 402.3 L324.2 402.4 L324.7 402.5 L325.2 402.6 L325.7 402.8 L326.2 402.9 L326.7 403.0 L327.2 403.1 L327.7 403.3 L328.2 403.4 L328.7 403.5 L329.2 403.7 L329.7 403.8 L330.2 404.0 L330.7 404.2 L331.2 404.4 L331.7 404.5 L332.2 404.7 L332.7 404.9 L333.2 405.1 L333.7 405.3 L334.2 405.6 L334.7 405.8 L335.2 406.0 L335.7 406.2 L336.2 406.4 L336.7 406.6 L337.2 406.8 L337.7 407.0 L338.2 407.2 L338.7 407.4 L339.2 407.6 L339.7 407.8 L340.2 408.0 L340.7 408.2 L341.2 408.4 L341.7 408.5 L342.2 408.7 L342.7 408.9 L343.2 409.1 L343.7 409.3 L344.2 409.4 L344.7 409.6 L345.2 409.8 L345.7 410.0 L346.2 410.3 L346.7 410.5 L347.2 410.7 L347.7 410.9 L348.2 411.2 L348.7 411.4 L349.2 411.6 L349.7 411.9 L350.2 412.1 L350.7 412.4 L351.2 412.6 L351.7 412.9 L352.2 413.1 L352.7 413.3 L353.2 413.6 L353.7 413.8 L354.2 414.1 L354.7 414.3 L355.2 414.6 L355.7 414.8 L356.2 415.1 L356.7 415.3 L357.2 415.6 L357.7 415.8 L358.2 416.1 L358.7 416.3 L359.2 416.5 L359.7 416.8 L360.2 417.0 L360.7 417.2 L361.2 417.5 L361.7 417.7 L362.2 418.0 L362.7 418.2 L363.2 418.4 L363.7 418.7 L364.2 418.9 L364.7 419.1 L365.2 419.4 L365.7 419.6 L366.2 419.8 L366.7 420.1 L367.2 420.3 L367.7 420.5 L368.2 420.7 L368.7 420.9 L369.2 421.1 L369.7 421.4 L370.2 421.6 L370.7 421.8 L371.2 422.0 L371.7 422.2 L372.2 422.4 L372.7 422.5 L373.2 422.7 L373.7 422.9 L374.2 423.1 L374.7 423.3 L375.2 423.5 L375.7 423.7 L376.2 423.9 L376.7 424.1 L377.2 424.2 L377.7 424.4 L378.2 424.6 L378.7 424.8 L379.2 424.9 L379.7 425.1 L380.2 425.3 L380.7 425.4 L381.2 425.6 L381.7 425.7 L382.2 425.9 L382.7 426.0 L383.2 426.2 L383.7 426.3 L384.2 426.4 L384.7 426.6 L385.2 426.7 L385.7 426.8 L386.2 426.9 L386.7 427.1 L387.2 427.2 L387.7 427.3 L388.2 427.4 L388.7 427.6 L389.2 427.7 L389.7 427.8 L390.2 427.9 L390.7 428.0 L391.2 428.1 L391.7 428.2 L392.2 428.3 L392.7 428.4 L393.2 428.5 L393.7 428.6 L394.2 428.7 L394.7 428.7 L395.2 428.8 L395.7 428.9 L396.2 428.9 L396.7 429.0 L397.2 429.0 L397.7 429.1 L398.2 429.1 L398.7 429.1 L399.2 429.2 L399.7 429.2 L400.2 429.3 L400.7 429.3 L401.2 429.3 L401.7 429.4 L402.2 429.4 L402.7 429.4 L403.2 429.5 L403.7 429.5 L404.2 429.5 L404.7 429.6 L405.2 429.6 L405.7 429.6 L406.2 429.6 L406.7 429.7 L407.2 429.7 L407.7 429.7 L408.2 429.7 L408.7 429.7 L409.2 429.8 L409.7 429.8 L410.2 429.8 L410.7 429.8 L411.2 429.8 L411.7 429.8 L412.2 429.8" fill="none" stroke="#300" stroke-width="0.9" stroke-dasharray="8,3.5"/>
<path d="M254.5 423.2 L255.3 421.7 L256.1 423.9 L256.9 421.3 L257.7 420.9 L258.5 422.8 L259.3 423.6 L260.1 423.4 L260.9 423.3 L261.7 422.1 L262.5 421.2 L263.3 422.1 L264.1 422.0 L264.9 421.5 L265.7 420.7 L266.5 421.2 L267.3 421.7 L268.1 420.4 L268.9 421.1 L269.7 420.4 L270.5 423.0 L271.3 422.1 L272.1 421.4 L272.9 422.3 L273.7 421.7 L274.5 421.2 L275.3 421.7 L276.1 421.6 L276.9 424.2 L277.7 421.1 L278.5 420.0 L279.3 422.3 L280.1 421.0 L280.9 421.0 L281.7 422.7 L282.5 421.4 L283.3 421.1 L284.1 421.9 L284.9 421.2 L285.7 422.3 L286.5 421.5 L287.3 422.0 L288.1 422.7 L288.9 423.0 L289.7 420.8 L290.5 421.7 L291.3 421.8 L292.1 422.4 L292.9 421.8 L293.7 421.5 L294.5 422.7 L295.3 422.6 L296.1 422.0 L296.9 421.0 L297.7 421.9 L298.5 421.4 L299.3 422.9 L300.1 422.2 L300.9 422.2 L301.7 422.4 L302.5 422.3 L303.3 421.5 L304.1 422.3 L304.9 422.2 L305.7 421.1 L306.5 422.6 L307.3 422.3 L308.1 422.1 L308.9 422.4 L309.7 421.9 L310.5 422.6 L311.3 422.1 L312.1 421.8 L312.9 423.0 L313.7 422.6 L314.5 422.4 L315.3 422.5 L316.1 422.6 L316.9 422.9 L317.7 422.7 L318.5 423.0 L319.3 422.3 L320.1 422.3 L320.9 422.6 L321.7 422.7 L322.5 422.6 L323.3 422.4 L324.1 422.6 L324.9 423.0 L325.7 423.0 L326.5 422.4 L327.3 423.1 L328.1 423.0 L328.9 423.1 L329.7 423.3 L330.5 423.1 L331.3 423.7 L332.1 423.0 L332.9 422.9 L333.7 423.3 L334.5 423.4 L335.3 423.0 L336.1 423.5 L336.9 423.5 L337.7 423.1 L338.5 423.5 L339.3 424.0 L340.1 424.0 L340.9 423.4 L341.7 424.1 L342.5 423.9 L343.3 424.7 L344.1 424.0 L344.9 424.4 L345.7 423.8 L346.5 424.7 L347.3 424.5 L348.1 424.4 L348.9 424.5 L349.7 424.8 L350.5 424.7 L351.3 425.2 L352.1 425.0 L352.9 425.1 L353.7 426.3 L354.5 425.4 L355.3 425.7 L356.1 425.7 L356.9 425.7 L357.7 425.9 L358.5 425.6 L359.3 426.3 L360.1 426.3 L360.9 426.4 L361.7 426.1 L362.5 426.8 L363.3 426.2 L364.1 426.8 L364.9 426.7 L365.7 426.6 L366.5 427.6 L367.3 427.7 L368.1 427.7 L368.9 427.4 L369.7 427.3 L370.5 427.7 L371.3 427.7 L372.1 427.2 L372.9 428.2 L373.7 428.2 L374.5 427.8 L375.3 427.8 L376.1 428.1 L376.9 428.3 L377.7 429.0 L378.5 428.5 L379.3 428.1 L380.1 428.7 L380.9 428.2 L381.7 428.3 L382.5 428.8 L383.3 428.7 L384.1 428.4 L384.9 428.7 L385.7 428.8 L386.5 428.7 L387.3 428.9 L388.1 429.2 L388.9 429.1 L389.7 429.0 L390.5 429.6 L391.3 429.9 L392.1 429.7 L392.9 429.2 L393.7 429.3 L394.5 429.7 L395.3 429.7 L396.1 429.4 L396.9 429.8 L397.7 429.7 L398.5 429.3 L399.3 429.2 L400.1 429.7 L400.9 429.5 L401.7 430.3 L402.5 429.4 L403.3 429.5 L404.1 430.6 L404.9 429.3 L405.7 430.0 L406.5 429.8 L407.3 429.6 L408.1 429.4 L408.9 429.7 L409.7 430.2 L410.5 430.0 L411.3 429.7 L412.1 430.0 L412.9 429.6 L413.7 429.8 L414.5 430.1" fill="none" stroke="#000" stroke-width="3.0" stroke-linejoin="round" stroke-linecap="round" />
<path d="M450.6 378.3 L451.5 377.9 L452.4 384.7 L453.3 379.7 L454.2 378.9 L455.1 385.8 L456.0 386.8 L456.9 383.0 L457.8 384.1 L458.7 391.5 L459.6 383.7 L460.5 384.9 L461.4 388.2 L462.3 387.5 L463.2 389.0 L464.1 387.7 L465.0 385.9 L465.9 386.7 L466.8 385.9 L467.7 387.8 L468.6 387.5 L469.5 385.3 L470.4 387.6 L471.3 386.1 L472.2 387.2 L473.1 386.8 L474.0 387.7 L474.9 384.8 L475.8 388.1 L476.7 386.4 L477.6 388.9 L478.5 386.9 L479.4 387.7 L480.3 387.6 L481.2 388.5 L482.1 389.3 L483.0 388.8 L483.9 388.7 L484.8 389.0 L485.7 388.9 L486.6 389.2 L487.5 388.7 L488.4 389.3 L489.3 390.7 L490.2 390.6 L491.1 388.5 L492.0 389.9 L492.9 390.4 L493.8 390.0 L494.7 390.1 L495.6 390.7 L496.5 391.7 L497.4 392.0 L498.3 391.4 L499.2 392.2 L500.1 391.7 L501.0 392.3 L501.9 392.1 L502.8 391.4 L503.7 392.2 L504.6 393.3 L505.5 394.1 L506.4 393.8 L507.3 395.4 L508.2 394.8 L509.1 394.5 L510.0 394.5 L510.9 396.9 L511.8 395.6 L512.7 395.5 L513.6 397.1 L514.5 397.0 L515.4 398.3 L516.3 397.3 L517.2 399.5 L518.1 400.0 L519.0 399.4 L519.9 399.3 L520.8 400.3 L521.7 401.3 L522.6 400.2 L523.5 400.7 L524.4 401.8 L525.3 401.6 L526.2 401.3 L527.1 401.8 L528.0 401.9 L528.9 401.7 L529.8 402.2 L530.7 400.8 L531.6 403.0 L532.5 403.9 L533.4 404.1 L534.3 403.7 L535.2 405.5 L536.1 405.7 L537.0 404.7 L537.9 405.7 L538.8 405.9 L539.7 406.2 L540.6 407.9 L541.5 408.4 L542.4 407.9 L543.3 408.8 L544.2 409.8 L545.1 409.9 L546.0 411.3 L546.9 411.5 L547.8 412.1 L548.7 411.5 L549.6 413.8 L550.5 412.3 L551.4 414.2 L552.3 415.5 L553.2 415.4 L554.1 415.4 L555.0 416.1 L555.9 416.2 L556.8 418.2 L557.7 418.3 L558.6 418.2 L559.5 419.9 L560.4 419.6 L561.3 420.7 L562.2 420.4 L563.1 421.3 L564.0 421.4 L564.9 421.0 L565.8 420.3 L566.7 420.8 L567.6 419.7 L568.5 420.3 L569.4 419.3 L570.3 419.0 L571.2 418.4 L572.1 417.7 L573.0 418.1 L573.9 417.5 L574.8 417.0 L575.7 418.1 L576.6 418.2 L577.5 419.4 L578.4 420.7 L579.3 423.4 L580.2 426.1 L581.1 426.2 L582.0 425.7 L582.9 424.9 L583.8 424.2 L584.7 423.2 L585.6 422.1 L586.5 420.7 L587.4 419.3 L588.3 416.8 L589.2 417.5 L590.1 417.3 L591.0 416.0 L591.9 417.4 L592.8 417.0 L593.7 417.3 L594.6 419.2 L595.5 420.0 L596.4 422.5 L597.3 424.5 L598.2 424.9 L599.1 424.7 L600.0 424.0 L600.9 422.8 L601.8 422.4 L602.7 421.7 L603.6 420.8 L604.5 419.2 L605.4 417.8 L606.3 418.2 L607.2 418.9 L608.1 420.9 L609.0 423.7 L609.9 424.7 L610.8 424.5 L611.7 422.0" fill="none" stroke="#000" stroke-width="2.9" stroke-linejoin="round" stroke-linecap="round" />
<g fill="#000"><circle cx="452.0" cy="381.4" r="1.35"/><circle cx="456.2" cy="380.8" r="1.35"/><circle cx="460.4" cy="380.6" r="1.35"/><circle cx="464.6" cy="380.8" r="1.35"/><circle cx="468.8" cy="382.1" r="1.35"/><circle cx="473.0" cy="383.5" r="1.35"/><circle cx="477.2" cy="384.7" r="1.35"/><circle cx="481.4" cy="385.7" r="1.35"/><circle cx="485.6" cy="386.7" r="1.35"/><circle cx="489.8" cy="388.0" r="1.35"/><circle cx="494.0" cy="389.3" r="1.35"/><circle cx="498.2" cy="390.9" r="1.35"/><circle cx="502.4" cy="393.0" r="1.35"/><circle cx="506.6" cy="395.7" r="1.35"/><circle cx="510.8" cy="398.7" r="1.35"/><circle cx="515.0" cy="401.3" r="1.35"/><circle cx="519.2" cy="403.9" r="1.35"/><circle cx="523.4" cy="406.5" r="1.35"/><circle cx="527.6" cy="409.1" r="1.35"/><circle cx="531.8" cy="411.4" r="1.35"/><circle cx="536.0" cy="413.4" r="1.35"/><circle cx="540.2" cy="414.7" r="1.35"/><circle cx="544.4" cy="415.9" r="1.35"/><circle cx="548.6" cy="418.7" r="1.35"/><circle cx="552.8" cy="422.6" r="1.35"/><circle cx="557.0" cy="425.9" r="1.35"/><circle cx="555.9" cy="424.9" r="1.35"/><circle cx="559.4" cy="427.1" r="1.35"/><circle cx="563.9" cy="424.9" r="1.35"/><circle cx="571.9" cy="416.0" r="1.35"/><circle cx="574.6" cy="412.9" r="1.35"/><circle cx="577.7" cy="415.1" r="1.35"/><circle cx="579.0" cy="418.7" r="1.35"/><circle cx="581.7" cy="421.8" r="1.35"/><circle cx="580.8" cy="427.1" r="1.35"/><circle cx="585.0" cy="425.0" r="1.35"/><circle cx="588.0" cy="420.0" r="1.35"/><circle cx="591.4" cy="423.1" r="1.35"/><circle cx="595.0" cy="421.0" r="1.35"/><circle cx="599.4" cy="430.2" r="1.35"/><circle cx="602.1" cy="430.7" r="1.35"/><circle cx="603.0" cy="434.2" r="1.35"/><circle cx="605.7" cy="428.9" r="1.35"/><circle cx="607.0" cy="433.3" r="1.35"/></g>
<g stroke="#000" stroke-width="1.05" stroke-linecap="butt"><line x1="38.00" y1="0.50" x2="628.60" y2="0.50"/><line x1="38.50" y1="0.50" x2="38.50" y2="188.55"/><line x1="37.95" y1="188.50" x2="224.50" y2="188.50"/><line x1="38.50" y1="188.00" x2="38.50" y2="180.00"/><line x1="67.50" y1="188.00" x2="67.50" y2="184.00"/><line x1="97.50" y1="188.00" x2="97.50" y2="180.00"/><line x1="126.50" y1="188.00" x2="126.50" y2="184.00"/><line x1="156.50" y1="188.00" x2="156.50" y2="180.00"/><line x1="185.50" y1="188.00" x2="185.50" y2="184.00"/><line x1="215.50" y1="188.00" x2="215.50" y2="180.00"/><line x1="238.55" y1="188.50" x2="426.20" y2="188.50"/><line x1="239.50" y1="188.00" x2="239.50" y2="180.00"/><line x1="268.50" y1="188.00" x2="268.50" y2="184.00"/><line x1="298.50" y1="188.00" x2="298.50" y2="180.00"/><line x1="327.50" y1="188.00" x2="327.50" y2="184.00"/><line x1="357.50" y1="188.00" x2="357.50" y2="180.00"/><line x1="386.50" y1="188.00" x2="386.50" y2="184.00"/><line x1="416.50" y1="188.00" x2="416.50" y2="180.00"/><line x1="442.00" y1="188.50" x2="628.60" y2="188.50"/><line x1="454.50" y1="188.00" x2="454.50" y2="180.00"/><line x1="494.50" y1="188.00" x2="494.50" y2="184.00"/><line x1="535.50" y1="188.00" x2="535.50" y2="180.00"/><line x1="575.50" y1="188.00" x2="575.50" y2="184.00"/><line x1="615.50" y1="188.00" x2="615.50" y2="180.00"/><line x1="628.50" y1="0.50" x2="628.50" y2="188.55"/><line x1="628.10" y1="183.50" x2="624.30" y2="183.50"/><line x1="628.10" y1="174.50" x2="620.40" y2="174.50"/><line x1="628.10" y1="165.50" x2="624.30" y2="165.50"/><line x1="628.10" y1="156.50" x2="624.30" y2="156.50"/><line x1="628.10" y1="147.50" x2="624.30" y2="147.50"/><line x1="628.10" y1="138.50" x2="624.30" y2="138.50"/><line x1="628.10" y1="129.50" x2="620.40" y2="129.50"/><line x1="628.10" y1="119.50" x2="624.30" y2="119.50"/><line x1="628.10" y1="110.50" x2="624.30" y2="110.50"/><line x1="628.10" y1="101.50" x2="624.30" y2="101.50"/><line x1="628.10" y1="92.50" x2="624.30" y2="92.50"/><line x1="628.10" y1="83.50" x2="620.40" y2="83.50"/><line x1="628.10" y1="74.50" x2="624.30" y2="74.50"/><line x1="628.10" y1="65.50" x2="624.30" y2="65.50"/><line x1="628.10" y1="56.50" x2="624.30" y2="56.50"/><line x1="628.10" y1="47.50" x2="624.30" y2="47.50"/><line x1="628.10" y1="38.50" x2="620.40" y2="38.50"/><line x1="628.10" y1="28.50" x2="624.30" y2="28.50"/><line x1="628.10" y1="19.50" x2="624.30" y2="19.50"/><line x1="628.10" y1="10.50" x2="624.30" y2="10.50"/><line x1="38.50" y1="181.50" x2="46.50" y2="181.50"/><line x1="38.50" y1="168.50" x2="42.50" y2="168.50"/><line x1="38.50" y1="155.50" x2="42.50" y2="155.50"/><line x1="38.50" y1="142.50" x2="42.50" y2="142.50"/><line x1="38.50" y1="129.50" x2="42.50" y2="129.50"/><line x1="38.50" y1="116.50" x2="46.50" y2="116.50"/><line x1="38.50" y1="103.50" x2="42.50" y2="103.50"/><line x1="38.50" y1="90.50" x2="42.50" y2="90.50"/><line x1="38.50" y1="78.50" x2="42.50" y2="78.50"/><line x1="38.50" y1="65.50" x2="42.50" y2="65.50"/><line x1="38.50" y1="52.50" x2="46.50" y2="52.50"/><line x1="38.50" y1="39.50" x2="42.50" y2="39.50"/><line x1="38.50" y1="26.50" x2="42.50" y2="26.50"/><line x1="38.50" y1="13.50" x2="42.50" y2="13.50"/><line x1="38.00" y1="248.50" x2="628.60" y2="248.50"/><line x1="38.50" y1="248.90" x2="38.50" y2="436.95"/><line x1="37.95" y1="436.50" x2="224.80" y2="436.50"/><line x1="38.50" y1="436.40" x2="38.50" y2="428.40"/><line x1="68.50" y1="436.40" x2="68.50" y2="432.40"/><line x1="98.50" y1="436.40" x2="98.50" y2="428.40"/><line x1="128.50" y1="436.40" x2="128.50" y2="432.40"/><line x1="158.50" y1="436.40" x2="158.50" y2="428.40"/><line x1="189.50" y1="436.40" x2="189.50" y2="432.40"/><line x1="219.50" y1="436.40" x2="219.50" y2="428.40"/><line x1="239.45" y1="436.50" x2="425.60" y2="436.50"/><line x1="240.50" y1="436.40" x2="240.50" y2="428.40"/><line x1="270.50" y1="436.40" x2="270.50" y2="432.40"/><line x1="300.50" y1="436.40" x2="300.50" y2="428.40"/><line x1="330.50" y1="436.40" x2="330.50" y2="432.40"/><line x1="360.50" y1="436.40" x2="360.50" y2="428.40"/><line x1="390.50" y1="436.40" x2="390.50" y2="432.40"/><line x1="420.50" y1="436.40" x2="420.50" y2="428.40"/><line x1="442.00" y1="436.50" x2="628.60" y2="436.50"/><line x1="454.50" y1="436.40" x2="454.50" y2="428.40"/><line x1="494.50" y1="436.40" x2="494.50" y2="432.40"/><line x1="535.50" y1="436.40" x2="535.50" y2="428.40"/><line x1="575.50" y1="436.40" x2="575.50" y2="432.40"/><line x1="615.50" y1="436.40" x2="615.50" y2="428.40"/><line x1="628.50" y1="248.90" x2="628.50" y2="436.95"/><line x1="628.10" y1="432.50" x2="624.30" y2="432.50"/><line x1="628.10" y1="422.50" x2="620.40" y2="422.50"/><line x1="628.10" y1="413.50" x2="624.30" y2="413.50"/><line x1="628.10" y1="404.50" x2="624.30" y2="404.50"/><line x1="628.10" y1="395.50" x2="624.30" y2="395.50"/><line x1="628.10" y1="386.50" x2="624.30" y2="386.50"/><line x1="628.10" y1="377.50" x2="620.40" y2="377.50"/><line x1="628.10" y1="368.50" x2="624.30" y2="368.50"/><line x1="628.10" y1="359.50" x2="624.30" y2="359.50"/><line x1="628.10" y1="350.50" x2="624.30" y2="350.50"/><line x1="628.10" y1="341.50" x2="624.30" y2="341.50"/><line x1="628.10" y1="331.50" x2="620.40" y2="331.50"/><line x1="628.10" y1="322.50" x2="624.30" y2="322.50"/><line x1="628.10" y1="313.50" x2="624.30" y2="313.50"/><line x1="628.10" y1="304.50" x2="624.30" y2="304.50"/><line x1="628.10" y1="295.50" x2="624.30" y2="295.50"/><line x1="628.10" y1="286.50" x2="620.40" y2="286.50"/><line x1="628.10" y1="277.50" x2="624.30" y2="277.50"/><line x1="628.10" y1="268.50" x2="624.30" y2="268.50"/><line x1="628.10" y1="259.50" x2="624.30" y2="259.50"/><line x1="38.50" y1="429.50" x2="46.50" y2="429.50"/><line x1="38.50" y1="415.50" x2="42.50" y2="415.50"/><line x1="38.50" y1="401.50" x2="42.50" y2="401.50"/><line x1="38.50" y1="387.50" x2="42.50" y2="387.50"/><line x1="38.50" y1="374.50" x2="42.50" y2="374.50"/><line x1="38.50" y1="360.50" x2="46.50" y2="360.50"/><line x1="38.50" y1="346.50" x2="42.50" y2="346.50"/><line x1="38.50" y1="332.50" x2="42.50" y2="332.50"/><line x1="38.50" y1="318.50" x2="42.50" y2="318.50"/><line x1="38.50" y1="304.50" x2="42.50" y2="304.50"/><line x1="38.50" y1="290.50" x2="46.50" y2="290.50"/><line x1="38.50" y1="276.50" x2="42.50" y2="276.50"/><line x1="38.50" y1="262.50" x2="42.50" y2="262.50"/></g>
<g font-family="'Liberation Sans', sans-serif" fill="#000" opacity="0.995"><text transform="translate(26.76 202.00) scale(0.9754 1)" font-size="11.30" stroke="#000" stroke-width="0.35">10</text><text transform="translate(40.15 195.40) scale(1.2481 1)" font-size="7.20" stroke="#000" stroke-width="0.35">−6</text><text transform="translate(85.66 202.00) scale(0.9754 1)" font-size="11.30" stroke="#000" stroke-width="0.35">10</text><text transform="translate(99.06 195.40) scale(1.2293 1)" font-size="7.20" stroke="#000" stroke-width="0.35">−4</text><text transform="translate(144.56 202.00) scale(0.9754 1)" font-size="11.30" stroke="#000" stroke-width="0.35">10</text><text transform="translate(157.95 195.40) scale(1.2553 1)" font-size="7.20" stroke="#000" stroke-width="0.35">−2</text><text transform="translate(213.34 202.00) scale(0.6555 1)" font-size="11.30" stroke="#000" stroke-width="0.35">1</text><text transform="translate(227.36 202.00) scale(0.9754 1)" font-size="11.30" stroke="#000" stroke-width="0.35">10</text><text transform="translate(240.75 195.40) scale(1.2481 1)" font-size="7.20" stroke="#000" stroke-width="0.35">−6</text><text transform="translate(286.46 202.00) scale(0.9754 1)" font-size="11.30" stroke="#000" stroke-width="0.35">10</text><text transform="translate(299.86 195.40) scale(1.2293 1)" font-size="7.20" stroke="#000" stroke-width="0.35">−4</text><text transform="translate(345.56 202.00) scale(0.9754 1)" font-size="11.30" stroke="#000" stroke-width="0.35">10</text><text transform="translate(358.95 195.40) scale(1.2553 1)" font-size="7.20" stroke="#000" stroke-width="0.35">−2</text><text transform="translate(414.54 202.00) scale(0.6555 1)" font-size="11.30" stroke="#000" stroke-width="0.35">1</text><text transform="translate(442.56 202.00) scale(0.9754 1)" font-size="11.30" stroke="#000" stroke-width="0.35">10</text><text transform="translate(455.96 195.40) scale(1.2293 1)" font-size="7.20" stroke="#000" stroke-width="0.35">−4</text><text transform="translate(523.26 202.00) scale(0.9754 1)" font-size="11.30" stroke="#000" stroke-width="0.35">10</text><text transform="translate(536.65 195.40) scale(1.2553 1)" font-size="7.20" stroke="#000" stroke-width="0.35">−2</text><text transform="translate(613.84 202.00) scale(0.6555 1)" font-size="11.30" stroke="#000" stroke-width="0.35">1</text><text transform="translate(119.91 218.30) scale(0.9403 1)" font-size="11.00" stroke="#000" stroke-width="0.35">t&#160;&#160;(s)</text><text transform="translate(321.11 218.30) scale(0.9403 1)" font-size="11.00" stroke="#000" stroke-width="0.35">t&#160;&#160;(s)</text><text transform="translate(523.91 218.30) scale(0.9403 1)" font-size="11.00" stroke="#000" stroke-width="0.35">t&#160;&#160;(s)</text><text transform="translate(16.95 56.40) scale(0.9918 1)" font-size="11.30" stroke="#000" stroke-width="0.35">1.0</text><text transform="translate(16.77 121.20) scale(0.9930 1)" font-size="11.30" stroke="#000" stroke-width="0.35">0.5</text><text transform="translate(27.06 185.90) scale(1.0324 1)" font-size="11.30" stroke="#000" stroke-width="0.35">0</text><text transform="translate(632.28 132.90) scale(0.9675 1)" font-size="11.30" stroke="#000" stroke-width="0.35">0.05</text><text transform="translate(632.29 87.40) scale(0.9654 1)" font-size="11.30" stroke="#000" stroke-width="0.35">0.10</text><text transform="translate(632.28 41.90) scale(0.9675 1)" font-size="11.30" stroke="#000" stroke-width="0.35">0.15</text><text transform="translate(632.17 178.60) scale(0.9956 1)" font-size="11.30" stroke="#000" stroke-width="0.35">0</text><text transform="translate(666.00 16.05) rotate(90) scale(0.9998 1)" font-size="11.60" stroke="#000" stroke-width="0.12">Normalized&#160;cross-correlation</text><text transform="translate(8.40 106.69) rotate(-90) scale(1.1887 1)" font-size="11.60" stroke="#000" stroke-width="0.15">G(t)</text><text transform="translate(26.76 450.40) scale(0.9754 1)" font-size="11.30" stroke="#000" stroke-width="0.35">10</text><text transform="translate(40.15 443.80) scale(1.2481 1)" font-size="7.20" stroke="#000" stroke-width="0.35">−6</text><text transform="translate(86.96 450.40) scale(0.9754 1)" font-size="11.30" stroke="#000" stroke-width="0.35">10</text><text transform="translate(100.36 443.80) scale(1.2293 1)" font-size="7.20" stroke="#000" stroke-width="0.35">−4</text><text transform="translate(147.16 450.40) scale(0.9754 1)" font-size="11.30" stroke="#000" stroke-width="0.35">10</text><text transform="translate(160.55 443.80) scale(1.2553 1)" font-size="7.20" stroke="#000" stroke-width="0.35">−2</text><text transform="translate(217.24 450.40) scale(0.6555 1)" font-size="11.30" stroke="#000" stroke-width="0.35">1</text><text transform="translate(228.26 450.40) scale(0.9754 1)" font-size="11.30" stroke="#000" stroke-width="0.35">10</text><text transform="translate(241.65 443.80) scale(1.2481 1)" font-size="7.20" stroke="#000" stroke-width="0.35">−6</text><text transform="translate(288.36 450.40) scale(0.9754 1)" font-size="11.30" stroke="#000" stroke-width="0.35">10</text><text transform="translate(301.76 443.80) scale(1.2293 1)" font-size="7.20" stroke="#000" stroke-width="0.35">−4</text><text transform="translate(348.46 450.40) scale(0.9754 1)" font-size="11.30" stroke="#000" stroke-width="0.35">10</text><text transform="translate(361.85 443.80) scale(1.2553 1)" font-size="7.20" stroke="#000" stroke-width="0.35">−2</text><text transform="translate(418.44 450.40) scale(0.6555 1)" font-size="11.30" stroke="#000" stroke-width="0.35">1</text><text transform="translate(442.76 450.40) scale(0.9754 1)" font-size="11.30" stroke="#000" stroke-width="0.35">10</text><text transform="translate(456.16 443.80) scale(1.2293 1)" font-size="7.20" stroke="#000" stroke-width="0.35">−4</text><text transform="translate(523.46 450.40) scale(0.9754 1)" font-size="11.30" stroke="#000" stroke-width="0.35">10</text><text transform="translate(536.85 443.80) scale(1.2553 1)" font-size="7.20" stroke="#000" stroke-width="0.35">−2</text><text transform="translate(614.04 450.40) scale(0.6555 1)" font-size="11.30" stroke="#000" stroke-width="0.35">1</text><text transform="translate(119.91 466.70) scale(0.9403 1)" font-size="11.00" stroke="#000" stroke-width="0.35">t&#160;&#160;(s)</text><text transform="translate(321.11 466.70) scale(0.9403 1)" font-size="11.00" stroke="#000" stroke-width="0.35">t&#160;&#160;(s)</text><text transform="translate(523.91 466.70) scale(0.9403 1)" font-size="11.00" stroke="#000" stroke-width="0.35">t&#160;&#160;(s)</text><text transform="translate(16.95 294.90) scale(0.9918 1)" font-size="11.30" stroke="#000" stroke-width="0.35">1.0</text><text transform="translate(16.77 364.40) scale(0.9930 1)" font-size="11.30" stroke="#000" stroke-width="0.35">0.5</text><text transform="translate(27.06 433.80) scale(1.0324 1)" font-size="11.30" stroke="#000" stroke-width="0.35">0</text><text transform="translate(632.28 381.30) scale(0.9675 1)" font-size="11.30" stroke="#000" stroke-width="0.35">0.05</text><text transform="translate(632.29 335.80) scale(0.9654 1)" font-size="11.30" stroke="#000" stroke-width="0.35">0.10</text><text transform="translate(632.28 290.30) scale(0.9675 1)" font-size="11.30" stroke="#000" stroke-width="0.35">0.15</text><text transform="translate(632.17 427.00) scale(0.9956 1)" font-size="11.30" stroke="#000" stroke-width="0.35">0</text><text transform="translate(666.00 264.45) rotate(90) scale(0.9998 1)" font-size="11.60" stroke="#000" stroke-width="0.12">Normalized&#160;cross-correlation</text><text transform="translate(8.40 355.09) rotate(-90) scale(1.1887 1)" font-size="11.60" stroke="#000" stroke-width="0.15">G(t)</text><text transform="translate(59.67 20.60) scale(0.9034 1)" font-size="17.80" stroke="#000" stroke-width="0.12">A:</text><text transform="translate(83.41 20.60) scale(1.0443 1)" font-size="17.80" fill="#e63624" stroke="#e63624" stroke-width="0.00">bo</text><text transform="translate(103.94 24.08) scale(0.9698 1)" font-size="12.40" fill="#e63624" stroke="#e63624" stroke-width="0.35">3</text><text transform="translate(116.10 20.50) scale(1.1512 1)" font-size="17.80" stroke="#000" stroke-width="0.12">-</text><text transform="translate(127.95 20.70) scale(1.0108 1)" font-size="17.80" fill="#5cb85a" stroke="#5cb85a" stroke-width="0.00">bo</text><text transform="translate(148.09 24.18) scale(1.0889 1)" font-size="12.40" fill="#5cb85a" stroke="#5cb85a" stroke-width="0.35">3</text><text transform="translate(283.07 20.70) scale(0.9096 1)" font-size="17.80" stroke="#000" stroke-width="0.12">B:</text><text transform="translate(308.14 20.40) scale(1.0220 1)" font-size="17.80" fill="#e63624" stroke="#e63624" stroke-width="0.00">bo</text><text transform="translate(328.84 23.88) scale(0.9868 1)" font-size="12.40" fill="#e63624" stroke="#e63624" stroke-width="0.35">3</text><text transform="translate(346.33 20.20) scale(1.1052 1)" font-size="17.80" stroke="#000" stroke-width="0.12">-</text><text transform="translate(356.37 20.00) scale(0.8465 1)" font-size="17.80" fill="#5cb85a" stroke="#5cb85a" stroke-width="0.00">ATP&#160;s.</text><text transform="translate(462.30 20.50) scale(0.9036 1)" font-size="17.80" stroke="#000" stroke-width="0.12">C:</text><text transform="translate(485.62 20.50) scale(0.8115 1)" font-size="17.80" stroke="#000" stroke-width="0.12">FCCS</text><text transform="translate(529.54 72.20) scale(1.1546 1)" font-size="13.00" fill="#e63624" stroke="#e63624" stroke-width="0.00">bo</text><text transform="translate(546.32 75.70) scale(1.0549 1)" font-size="9.60" fill="#e63624" stroke="#e63624" stroke-width="0.35">3</text><text transform="translate(560.42 72.20) scale(1.0088 1)" font-size="13.00" stroke="#000" stroke-width="0.12">-</text><text transform="translate(568.08 72.00) scale(0.8966 1)" font-size="13.00" fill="#5cb85a" stroke="#5cb85a" stroke-width="0.00">ATP&#160;s.</text><text transform="translate(462.44 149.60) scale(1.1546 1)" font-size="13.00" fill="#e63624" stroke="#e63624" stroke-width="0.00">bo</text><text transform="translate(478.57 152.50) scale(1.1867 1)" font-size="9.60" fill="#e63624" stroke="#e63624" stroke-width="0.35">3</text><text transform="translate(488.45 149.60) scale(1.1349 1)" font-size="13.00" stroke="#000" stroke-width="0.12">-</text><text transform="translate(496.64 149.60) scale(1.1546 1)" font-size="13.00" fill="#5cb85a" stroke="#5cb85a" stroke-width="0.00">bo</text><text transform="translate(513.31 152.50) scale(1.0768 1)" font-size="9.60" fill="#5cb85a" stroke="#5cb85a" stroke-width="0.35">3</text><text transform="translate(58.49 268.60) scale(0.9658 1)" font-size="17.80" stroke="#000" stroke-width="0.12">D:</text><text transform="translate(83.11 268.60) scale(1.0443 1)" font-size="17.80" fill="#e63624" stroke="#e63624" stroke-width="0.00">bo</text><text transform="translate(103.84 272.08) scale(0.9868 1)" font-size="12.40" fill="#e63624" stroke="#e63624" stroke-width="0.35">3</text><text transform="translate(116.10 268.40) scale(1.1512 1)" font-size="17.80" stroke="#000" stroke-width="0.12">-</text><text transform="translate(127.95 268.60) scale(1.0108 1)" font-size="17.80" fill="#5cb85a" stroke="#5cb85a" stroke-width="0.00">bo</text><text transform="translate(148.09 272.08) scale(1.0889 1)" font-size="12.40" fill="#5cb85a" stroke="#5cb85a" stroke-width="0.35">3</text><text transform="translate(265.17 269.60) scale(0.8442 1)" font-size="17.80" stroke="#000" stroke-width="0.12">E:</text><text transform="translate(288.52 269.60) scale(1.0331 1)" font-size="17.80" fill="#e63624" stroke="#e63624" stroke-width="0.00">bo</text><text transform="translate(309.54 273.48) scale(0.9868 1)" font-size="12.40" fill="#e63624" stroke="#e63624" stroke-width="0.35">3</text><text transform="translate(327.61 269.40) scale(1.0131 1)" font-size="17.80" stroke="#000" stroke-width="0.12">-</text><text transform="translate(337.07 269.50) scale(0.8525 1)" font-size="17.80" fill="#5cb85a" stroke="#5cb85a" stroke-width="0.00">ATP&#160;s.</text><text transform="translate(469.94 268.90) scale(0.9285 1)" font-size="17.80" stroke="#000" stroke-width="0.12">F:</text><text transform="translate(492.60 268.90) scale(0.8202 1)" font-size="17.80" stroke="#000" stroke-width="0.12">FCCS</text><text transform="translate(532.93 396.80) scale(1.1623 1)" font-size="13.00" fill="#e63624" stroke="#e63624" stroke-width="0.00">bo</text><text transform="translate(549.52 399.70) scale(1.0549 1)" font-size="9.60" fill="#e63624" stroke="#e63624" stroke-width="0.35">3</text><text transform="translate(563.52 396.80) scale(1.0088 1)" font-size="13.00" stroke="#000" stroke-width="0.12">-</text><text transform="translate(570.88 396.80) scale(0.8993 1)" font-size="13.00" fill="#5cb85a" stroke="#5cb85a" stroke-width="0.00">ATP&#160;s.</text><text transform="translate(469.09 420.10) scale(1.2158 1)" font-size="13.00" fill="#e63624" stroke="#e63624" stroke-width="0.00">bo</text><text transform="translate(486.07 423.50) scale(1.1867 1)" font-size="9.60" fill="#e63624" stroke="#e63624" stroke-width="0.35">3</text><text transform="translate(495.63 420.10) scale(1.1665 1)" font-size="13.00" stroke="#000" stroke-width="0.12">-</text><text transform="translate(504.00 420.10) scale(1.2005 1)" font-size="13.00" fill="#5cb85a" stroke="#5cb85a" stroke-width="0.00">bo</text><text transform="translate(520.81 423.50) scale(1.0768 1)" font-size="9.60" fill="#5cb85a" stroke="#5cb85a" stroke-width="0.35">3</text></g>
</svg>
</body></html>
